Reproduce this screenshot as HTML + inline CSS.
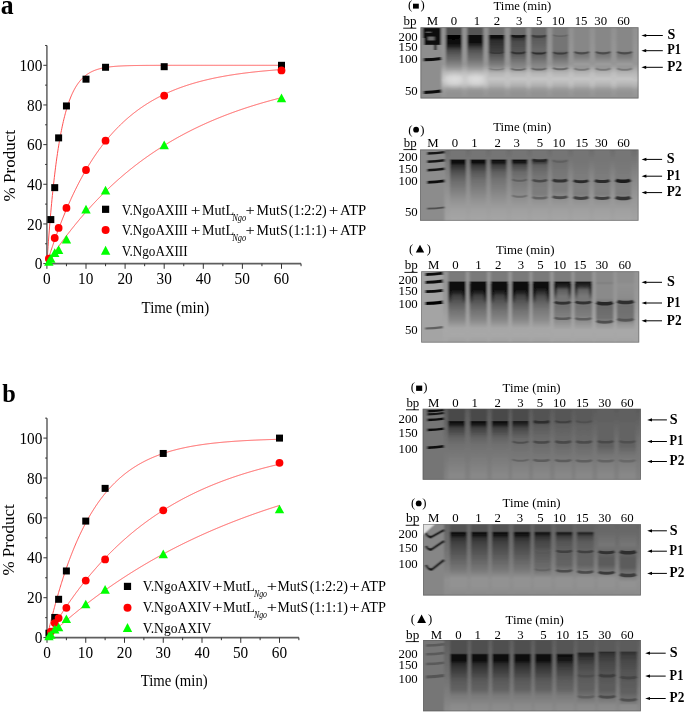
<!DOCTYPE html><html><head><meta charset="utf-8"><style>html,body{margin:0;padding:0;background:#fff;width:685px;height:713px;overflow:hidden}svg{display:block;will-change:transform}text{font-family:"Liberation Serif", serif;fill:#000}</style></head><body>
<svg width="685" height="713" viewBox="0 0 685 713">
<defs><filter id="bl" x="-5%" y="-5%" width="110%" height="110%"><feGaussianBlur stdDeviation="0.9 0.6"/></filter><filter id="bl3" x="-5%" y="-50%" width="110%" height="200%"><feGaussianBlur stdDeviation="3"/></filter></defs>
<rect width="685" height="713" fill="#fff"/>
<text x="0.63" y="13.70" font-size="26.7" font-weight="bold" textLength="12.86" lengthAdjust="spacingAndGlyphs">a</text>
<text x="2.36" y="402.40" font-size="25.5" font-weight="bold" textLength="13.55" lengthAdjust="spacingAndGlyphs">b</text>
<polyline points="46.90,263.60 47.29,257.74 47.68,252.05 48.07,246.53 48.46,241.18 48.85,235.98 49.25,230.93 49.64,226.04 50.03,221.29 50.42,216.68 50.81,212.20 51.20,207.86 51.59,203.65 51.98,199.56 52.37,195.59 52.77,191.74 53.16,188.00 53.55,184.38 53.94,180.86 54.33,177.44 54.72,174.13 55.11,170.91 55.50,167.79 55.89,164.76 56.28,161.82 56.67,158.97 57.07,156.20 57.46,153.52 57.85,150.91 58.24,148.38 58.63,145.92 59.02,143.54 59.41,141.23 59.80,138.98 60.19,136.81 60.59,134.69 60.98,132.64 61.37,130.65 61.76,128.72 62.15,126.85 62.54,125.03 62.93,123.26 63.32,121.55 63.71,119.89 64.10,118.27 64.50,116.71 64.89,115.19 65.28,113.71 65.67,112.28 66.06,110.89 66.45,109.55 66.84,108.24 67.23,106.97 67.62,105.74 68.01,104.54 68.41,103.38 68.80,102.26 69.19,101.17 69.58,100.11 69.97,99.08 70.36,98.08 70.75,97.11 71.14,96.17 71.53,95.26 71.92,94.37 72.31,93.51 72.71,92.68 73.10,91.87 73.49,91.08 73.88,90.32 74.27,89.58 74.66,88.87 75.05,88.17 75.44,87.49 75.83,86.84 76.22,86.20 76.62,85.58 77.01,84.98 77.40,84.40 77.79,83.84 78.18,83.29 78.57,82.76 78.96,82.24 79.35,81.74 79.74,81.26 80.13,80.78 80.53,80.33 80.92,79.88 81.31,79.45 81.70,79.03 82.09,78.63 82.48,78.23 82.87,77.85 83.26,77.48 83.65,77.12 84.05,76.77 84.44,76.43 84.83,76.10 85.22,75.78 85.61,75.47 86.00,75.17 86.39,74.88 86.78,74.60 87.17,74.32 87.56,74.06 87.95,73.80 88.35,73.55 88.74,73.30 89.13,73.07 89.52,72.84 89.91,72.61 90.30,72.40 90.69,72.19 91.08,71.98 91.47,71.79 91.87,71.60 92.26,71.41 92.65,71.23 93.04,71.05 93.43,70.88 93.82,70.72 94.21,70.56 94.60,70.40 94.99,70.25 95.38,70.11 95.78,69.96 96.17,69.83 96.56,69.69 96.95,69.56 97.34,69.44 97.73,69.31 98.12,69.20 98.51,69.08 98.90,68.97 99.29,68.86 99.69,68.75 100.08,68.65 100.47,68.55 100.86,68.46 101.25,68.36 101.64,68.27 102.03,68.19 102.42,68.10 102.81,68.02 103.20,67.94 103.59,67.86 103.99,67.78 104.38,67.71 104.77,67.64 105.16,67.57 105.55,67.50 105.94,67.44 106.33,67.37 106.72,67.31 107.11,67.25 107.50,67.20 107.90,67.14 108.29,67.09 108.68,67.03 109.07,66.98 109.46,66.93 109.85,66.88 110.24,66.84 110.63,66.79 111.02,66.75 111.41,66.70 111.81,66.66 112.20,66.62 112.59,66.58 112.98,66.55 113.37,66.51 113.76,66.47 114.15,66.44 114.54,66.40 114.93,66.37 115.32,66.34 115.72,66.31 116.11,66.28 116.50,66.25 116.89,66.22 117.28,66.20 117.67,66.17 118.06,66.14 118.45,66.12 118.84,66.09 119.24,66.07 119.63,66.05 120.02,66.03 120.41,66.00 120.80,65.98 121.19,65.96 121.58,65.94 121.97,65.92 122.36,65.91 122.75,65.89 123.15,65.87 123.54,65.85 123.93,65.84 124.32,65.82 124.71,65.81 125.10,65.79 125.49,65.78 125.88,65.76 126.27,65.75 126.66,65.74 127.06,65.72 127.45,65.71 127.84,65.70 128.23,65.69 128.62,65.68 129.01,65.66 129.40,65.65 129.79,65.64 130.18,65.63 130.57,65.62 130.97,65.61 131.36,65.60 131.75,65.60 132.14,65.59 132.53,65.58 132.92,65.57 133.31,65.56 133.70,65.55 134.09,65.55 134.48,65.54 134.88,65.53 135.27,65.53 135.66,65.52 136.05,65.51 136.44,65.51 136.83,65.50 137.22,65.49 137.61,65.49 138.00,65.48 138.39,65.48 138.78,65.47 139.18,65.47 139.57,65.46 139.96,65.46 140.35,65.45 140.74,65.45 141.13,65.44 141.52,65.44 141.91,65.44 142.30,65.43 142.69,65.43 143.09,65.42 143.48,65.42 143.87,65.42 144.26,65.41 144.65,65.41 145.04,65.41 145.43,65.40 145.82,65.40 146.21,65.40 146.60,65.39 147.00,65.39 147.39,65.39 147.78,65.39 148.17,65.38 148.56,65.38 148.95,65.38 149.34,65.38 149.73,65.37 150.12,65.37 150.52,65.37 150.91,65.37 151.30,65.37 151.69,65.36 152.08,65.36 152.47,65.36 152.86,65.36 153.25,65.36 153.64,65.36 154.03,65.35 154.43,65.35 154.82,65.35 155.21,65.35 155.60,65.35 155.99,65.35 156.38,65.34 156.77,65.34 157.16,65.34 157.55,65.34 157.94,65.34 158.34,65.34 158.73,65.34 159.12,65.34 159.51,65.34 159.90,65.33 160.29,65.33 160.68,65.33 161.07,65.33 161.46,65.33 161.85,65.33 162.25,65.33 162.64,65.33 163.03,65.33 163.42,65.33 163.81,65.33 164.20,65.32 164.59,65.32 164.98,65.32 165.37,65.32 165.76,65.32 166.16,65.32 166.55,65.32 166.94,65.32 167.33,65.32 167.72,65.32 168.11,65.32 168.50,65.32 168.89,65.32 169.28,65.32 169.67,65.32 170.06,65.32 170.46,65.32 170.85,65.31 171.24,65.31 171.63,65.31 172.02,65.31 172.41,65.31 172.80,65.31 173.19,65.31 173.58,65.31 173.97,65.31 174.37,65.31 174.76,65.31 175.15,65.31 175.54,65.31 175.93,65.31 176.32,65.31 176.71,65.31 177.10,65.31 177.49,65.31 177.89,65.31 178.28,65.31 178.67,65.31 179.06,65.31 179.45,65.31 179.84,65.31 180.23,65.31 180.62,65.31 181.01,65.31 181.40,65.31 181.80,65.31 182.19,65.31 182.58,65.31 182.97,65.31 183.36,65.31 183.75,65.31 184.14,65.31 184.53,65.31 184.92,65.30 185.31,65.30 185.71,65.30 186.10,65.30 186.49,65.30 186.88,65.30 187.27,65.30 187.66,65.30 188.05,65.30 188.44,65.30 188.83,65.30 189.22,65.30 189.62,65.30 190.01,65.30 190.40,65.30 190.79,65.30 191.18,65.30 191.57,65.30 191.96,65.30 192.35,65.30 192.74,65.30 193.13,65.30 193.53,65.30 193.92,65.30 194.31,65.30 194.70,65.30 195.09,65.30 195.48,65.30 195.87,65.30 196.26,65.30 196.65,65.30 197.04,65.30 197.44,65.30 197.83,65.30 198.22,65.30 198.61,65.30 199.00,65.30 199.39,65.30 199.78,65.30 200.17,65.30 200.56,65.30 200.95,65.30 201.34,65.30 201.74,65.30 202.13,65.30 202.52,65.30 202.91,65.30 203.30,65.30 203.69,65.30 204.08,65.30 204.47,65.30 204.86,65.30 205.26,65.30 205.65,65.30 206.04,65.30 206.43,65.30 206.82,65.30 207.21,65.30 207.60,65.30 207.99,65.30 208.38,65.30 208.77,65.30 209.17,65.30 209.56,65.30 209.95,65.30 210.34,65.30 210.73,65.30 211.12,65.30 211.51,65.30 211.90,65.30 212.29,65.30 212.68,65.30 213.08,65.30 213.47,65.30 213.86,65.30 214.25,65.30 214.64,65.30 215.03,65.30 215.42,65.30 215.81,65.30 216.20,65.30 216.59,65.30 216.99,65.30 217.38,65.30 217.77,65.30 218.16,65.30 218.55,65.30 218.94,65.30 219.33,65.30 219.72,65.30 220.11,65.30 220.50,65.30 220.90,65.30 221.29,65.30 221.68,65.30 222.07,65.30 222.46,65.30 222.85,65.30 223.24,65.30 223.63,65.30 224.02,65.30 224.41,65.30 224.81,65.30 225.20,65.30 225.59,65.30 225.98,65.30 226.37,65.30 226.76,65.30 227.15,65.30 227.54,65.30 227.93,65.30 228.32,65.30 228.72,65.30 229.11,65.30 229.50,65.30 229.89,65.30 230.28,65.30 230.67,65.30 231.06,65.30 231.45,65.30 231.84,65.30 232.23,65.30 232.62,65.30 233.02,65.30 233.41,65.30 233.80,65.30 234.19,65.30 234.58,65.30 234.97,65.30 235.36,65.30 235.75,65.30 236.14,65.30 236.54,65.30 236.93,65.30 237.32,65.30 237.71,65.30 238.10,65.30 238.49,65.30 238.88,65.30 239.27,65.30 239.66,65.30 240.05,65.30 240.45,65.30 240.84,65.30 241.23,65.30 241.62,65.30 242.01,65.30 242.40,65.30 242.79,65.30 243.18,65.30 243.57,65.30 243.96,65.30 244.36,65.30 244.75,65.30 245.14,65.30 245.53,65.30 245.92,65.30 246.31,65.30 246.70,65.30 247.09,65.30 247.48,65.30 247.87,65.30 248.27,65.30 248.66,65.30 249.05,65.30 249.44,65.30 249.83,65.30 250.22,65.30 250.61,65.30 251.00,65.30 251.39,65.30 251.78,65.30 252.18,65.30 252.57,65.30 252.96,65.30 253.35,65.30 253.74,65.30 254.13,65.30 254.52,65.30 254.91,65.30 255.30,65.30 255.69,65.30 256.08,65.30 256.48,65.30 256.87,65.30 257.26,65.30 257.65,65.30 258.04,65.30 258.43,65.30 258.82,65.30 259.21,65.30 259.60,65.30 260.00,65.30 260.39,65.30 260.78,65.30 261.17,65.30 261.56,65.30 261.95,65.30 262.34,65.30 262.73,65.30 263.12,65.30 263.51,65.30 263.90,65.30 264.30,65.30 264.69,65.30 265.08,65.30 265.47,65.30 265.86,65.30 266.25,65.30 266.64,65.30 267.03,65.30 267.42,65.30 267.81,65.30 268.21,65.30 268.60,65.30 268.99,65.30 269.38,65.30 269.77,65.30 270.16,65.30 270.55,65.30 270.94,65.30 271.33,65.30 271.73,65.30 272.12,65.30 272.51,65.30 272.90,65.30 273.29,65.30 273.68,65.30 274.07,65.30 274.46,65.30 274.85,65.30 275.24,65.30 275.63,65.30 276.03,65.30 276.42,65.30 276.81,65.30 277.20,65.30 277.59,65.30 277.98,65.30 278.37,65.30 278.76,65.30 279.15,65.30 279.55,65.30 279.94,65.30 280.33,65.30 280.72,65.30 281.11,65.30 281.50,65.30" fill="none" stroke="#ff5050" stroke-width="1"/>
<polyline points="46.90,263.60 47.29,262.33 47.68,261.08 48.07,259.83 48.46,258.59 48.85,257.35 49.25,256.13 49.64,254.91 50.03,253.70 50.42,252.50 50.81,251.31 51.20,250.12 51.59,248.94 51.98,247.77 52.37,246.61 52.77,245.45 53.16,244.30 53.55,243.16 53.94,242.02 54.33,240.90 54.72,239.77 55.11,238.66 55.50,237.56 55.89,236.46 56.28,235.37 56.67,234.28 57.07,233.20 57.46,232.13 57.85,231.07 58.24,230.01 58.63,228.96 59.02,227.91 59.41,226.88 59.80,225.85 60.19,224.82 60.59,223.80 60.98,222.79 61.37,221.79 61.76,220.79 62.15,219.80 62.54,218.81 62.93,217.83 63.32,216.86 63.71,215.89 64.10,214.93 64.50,213.98 64.89,213.03 65.28,212.09 65.67,211.15 66.06,210.22 66.45,209.30 66.84,208.38 67.23,207.46 67.62,206.56 68.01,205.66 68.41,204.76 68.80,203.87 69.19,202.99 69.58,202.11 69.97,201.24 70.36,200.37 70.75,199.51 71.14,198.65 71.53,197.80 71.92,196.95 72.31,196.11 72.71,195.28 73.10,194.45 73.49,193.63 73.88,192.81 74.27,191.99 74.66,191.19 75.05,190.38 75.44,189.59 75.83,188.79 76.22,188.00 76.62,187.22 77.01,186.44 77.40,185.67 77.79,184.90 78.18,184.14 78.57,183.38 78.96,182.63 79.35,181.88 79.74,181.14 80.13,180.40 80.53,179.66 80.92,178.93 81.31,178.21 81.70,177.49 82.09,176.77 82.48,176.06 82.87,175.36 83.26,174.65 83.65,173.96 84.05,173.26 84.44,172.57 84.83,171.89 85.22,171.21 85.61,170.53 86.00,169.86 86.39,169.20 86.78,168.53 87.17,167.87 87.56,167.22 87.95,166.57 88.35,165.92 88.74,165.28 89.13,164.64 89.52,164.01 89.91,163.38 90.30,162.75 90.69,162.13 91.08,161.51 91.47,160.90 91.87,160.29 92.26,159.68 92.65,159.08 93.04,158.48 93.43,157.89 93.82,157.30 94.21,156.71 94.60,156.13 94.99,155.55 95.38,154.97 95.78,154.40 96.17,153.83 96.56,153.27 96.95,152.71 97.34,152.15 97.73,151.60 98.12,151.05 98.51,150.50 98.90,149.95 99.29,149.41 99.69,148.88 100.08,148.34 100.47,147.82 100.86,147.29 101.25,146.77 101.64,146.25 102.03,145.73 102.42,145.22 102.81,144.71 103.20,144.20 103.59,143.70 103.99,143.20 104.38,142.70 104.77,142.21 105.16,141.72 105.55,141.23 105.94,140.74 106.33,140.26 106.72,139.78 107.11,139.31 107.50,138.84 107.90,138.37 108.29,137.90 108.68,137.44 109.07,136.98 109.46,136.52 109.85,136.07 110.24,135.61 110.63,135.17 111.02,134.72 111.41,134.28 111.81,133.84 112.20,133.40 112.59,132.97 112.98,132.53 113.37,132.11 113.76,131.68 114.15,131.26 114.54,130.83 114.93,130.42 115.32,130.00 115.72,129.59 116.11,129.18 116.50,128.77 116.89,128.37 117.28,127.96 117.67,127.56 118.06,127.17 118.45,126.77 118.84,126.38 119.24,125.99 119.63,125.60 120.02,125.22 120.41,124.84 120.80,124.46 121.19,124.08 121.58,123.70 121.97,123.33 122.36,122.96 122.75,122.59 123.15,122.23 123.54,121.86 123.93,121.50 124.32,121.15 124.71,120.79 125.10,120.43 125.49,120.08 125.88,119.73 126.27,119.39 126.66,119.04 127.06,118.70 127.45,118.36 127.84,118.02 128.23,117.68 128.62,117.35 129.01,117.02 129.40,116.69 129.79,116.36 130.18,116.03 130.57,115.71 130.97,115.39 131.36,115.07 131.75,114.75 132.14,114.44 132.53,114.12 132.92,113.81 133.31,113.50 133.70,113.19 134.09,112.89 134.48,112.58 134.88,112.28 135.27,111.98 135.66,111.69 136.05,111.39 136.44,111.10 136.83,110.80 137.22,110.51 137.61,110.22 138.00,109.94 138.39,109.65 138.78,109.37 139.18,109.09 139.57,108.81 139.96,108.53 140.35,108.26 140.74,107.98 141.13,107.71 141.52,107.44 141.91,107.17 142.30,106.90 142.69,106.64 143.09,106.37 143.48,106.11 143.87,105.85 144.26,105.59 144.65,105.34 145.04,105.08 145.43,104.83 145.82,104.57 146.21,104.32 146.60,104.08 147.00,103.83 147.39,103.58 147.78,103.34 148.17,103.10 148.56,102.85 148.95,102.61 149.34,102.38 149.73,102.14 150.12,101.90 150.52,101.67 150.91,101.44 151.30,101.21 151.69,100.98 152.08,100.75 152.47,100.53 152.86,100.30 153.25,100.08 153.64,99.86 154.03,99.64 154.43,99.42 154.82,99.20 155.21,98.98 155.60,98.77 155.99,98.55 156.38,98.34 156.77,98.13 157.16,97.92 157.55,97.71 157.94,97.51 158.34,97.30 158.73,97.10 159.12,96.89 159.51,96.69 159.90,96.49 160.29,96.29 160.68,96.10 161.07,95.90 161.46,95.70 161.85,95.51 162.25,95.32 162.64,95.13 163.03,94.94 163.42,94.75 163.81,94.56 164.20,94.37 164.59,94.19 164.98,94.00 165.37,93.82 165.76,93.64 166.16,93.46 166.55,93.28 166.94,93.10 167.33,92.92 167.72,92.74 168.11,92.57 168.50,92.40 168.89,92.22 169.28,92.05 169.67,91.88 170.06,91.71 170.46,91.54 170.85,91.38 171.24,91.21 171.63,91.04 172.02,90.88 172.41,90.72 172.80,90.55 173.19,90.39 173.58,90.23 173.97,90.07 174.37,89.92 174.76,89.76 175.15,89.60 175.54,89.45 175.93,89.29 176.32,89.14 176.71,88.99 177.10,88.84 177.49,88.69 177.89,88.54 178.28,88.39 178.67,88.24 179.06,88.10 179.45,87.95 179.84,87.81 180.23,87.66 180.62,87.52 181.01,87.38 181.40,87.24 181.80,87.10 182.19,86.96 182.58,86.82 182.97,86.68 183.36,86.55 183.75,86.41 184.14,86.28 184.53,86.14 184.92,86.01 185.31,85.88 185.71,85.75 186.10,85.62 186.49,85.49 186.88,85.36 187.27,85.23 187.66,85.10 188.05,84.98 188.44,84.85 188.83,84.73 189.22,84.60 189.62,84.48 190.01,84.36 190.40,84.23 190.79,84.11 191.18,83.99 191.57,83.87 191.96,83.76 192.35,83.64 192.74,83.52 193.13,83.40 193.53,83.29 193.92,83.17 194.31,83.06 194.70,82.95 195.09,82.83 195.48,82.72 195.87,82.61 196.26,82.50 196.65,82.39 197.04,82.28 197.44,82.17 197.83,82.07 198.22,81.96 198.61,81.85 199.00,81.75 199.39,81.64 199.78,81.54 200.17,81.43 200.56,81.33 200.95,81.23 201.34,81.13 201.74,81.03 202.13,80.93 202.52,80.83 202.91,80.73 203.30,80.63 203.69,80.53 204.08,80.43 204.47,80.34 204.86,80.24 205.26,80.15 205.65,80.05 206.04,79.96 206.43,79.86 206.82,79.77 207.21,79.68 207.60,79.59 207.99,79.50 208.38,79.41 208.77,79.32 209.17,79.23 209.56,79.14 209.95,79.05 210.34,78.96 210.73,78.87 211.12,78.79 211.51,78.70 211.90,78.62 212.29,78.53 212.68,78.45 213.08,78.36 213.47,78.28 213.86,78.20 214.25,78.11 214.64,78.03 215.03,77.95 215.42,77.87 215.81,77.79 216.20,77.71 216.59,77.63 216.99,77.55 217.38,77.47 217.77,77.40 218.16,77.32 218.55,77.24 218.94,77.17 219.33,77.09 219.72,77.02 220.11,76.94 220.50,76.87 220.90,76.79 221.29,76.72 221.68,76.65 222.07,76.57 222.46,76.50 222.85,76.43 223.24,76.36 223.63,76.29 224.02,76.22 224.41,76.15 224.81,76.08 225.20,76.01 225.59,75.94 225.98,75.88 226.37,75.81 226.76,75.74 227.15,75.67 227.54,75.61 227.93,75.54 228.32,75.48 228.72,75.41 229.11,75.35 229.50,75.28 229.89,75.22 230.28,75.16 230.67,75.09 231.06,75.03 231.45,74.97 231.84,74.91 232.23,74.85 232.62,74.79 233.02,74.73 233.41,74.67 233.80,74.61 234.19,74.55 234.58,74.49 234.97,74.43 235.36,74.37 235.75,74.31 236.14,74.25 236.54,74.20 236.93,74.14 237.32,74.08 237.71,74.03 238.10,73.97 238.49,73.92 238.88,73.86 239.27,73.81 239.66,73.75 240.05,73.70 240.45,73.65 240.84,73.59 241.23,73.54 241.62,73.49 242.01,73.44 242.40,73.38 242.79,73.33 243.18,73.28 243.57,73.23 243.96,73.18 244.36,73.13 244.75,73.08 245.14,73.03 245.53,72.98 245.92,72.93 246.31,72.88 246.70,72.83 247.09,72.79 247.48,72.74 247.87,72.69 248.27,72.64 248.66,72.60 249.05,72.55 249.44,72.50 249.83,72.46 250.22,72.41 250.61,72.37 251.00,72.32 251.39,72.28 251.78,72.23 252.18,72.19 252.57,72.14 252.96,72.10 253.35,72.06 253.74,72.01 254.13,71.97 254.52,71.93 254.91,71.89 255.30,71.84 255.69,71.80 256.08,71.76 256.48,71.72 256.87,71.68 257.26,71.64 257.65,71.60 258.04,71.56 258.43,71.52 258.82,71.48 259.21,71.44 259.60,71.40 260.00,71.36 260.39,71.32 260.78,71.28 261.17,71.25 261.56,71.21 261.95,71.17 262.34,71.13 262.73,71.09 263.12,71.06 263.51,71.02 263.90,70.98 264.30,70.95 264.69,70.91 265.08,70.88 265.47,70.84 265.86,70.81 266.25,70.77 266.64,70.74 267.03,70.70 267.42,70.67 267.81,70.63 268.21,70.60 268.60,70.56 268.99,70.53 269.38,70.50 269.77,70.46 270.16,70.43 270.55,70.40 270.94,70.37 271.33,70.33 271.73,70.30 272.12,70.27 272.51,70.24 272.90,70.21 273.29,70.18 273.68,70.14 274.07,70.11 274.46,70.08 274.85,70.05 275.24,70.02 275.63,69.99 276.03,69.96 276.42,69.93 276.81,69.90 277.20,69.87 277.59,69.84 277.98,69.81 278.37,69.79 278.76,69.76 279.15,69.73 279.55,69.70 279.94,69.67 280.33,69.64 280.72,69.62 281.11,69.59 281.50,69.56" fill="none" stroke="#ff5050" stroke-width="1"/>
<polyline points="46.90,263.60 47.29,263.00 47.68,262.41 48.07,261.81 48.46,261.22 48.85,260.63 49.25,260.04 49.64,259.45 50.03,258.87 50.42,258.28 50.81,257.70 51.20,257.12 51.59,256.54 51.98,255.97 52.37,255.39 52.77,254.82 53.16,254.25 53.55,253.68 53.94,253.11 54.33,252.54 54.72,251.98 55.11,251.41 55.50,250.85 55.89,250.29 56.28,249.74 56.67,249.18 57.07,248.63 57.46,248.07 57.85,247.52 58.24,246.97 58.63,246.42 59.02,245.88 59.41,245.33 59.80,244.79 60.19,244.25 60.59,243.71 60.98,243.17 61.37,242.64 61.76,242.10 62.15,241.57 62.54,241.04 62.93,240.51 63.32,239.98 63.71,239.45 64.10,238.93 64.50,238.40 64.89,237.88 65.28,237.36 65.67,236.84 66.06,236.32 66.45,235.81 66.84,235.29 67.23,234.78 67.62,234.27 68.01,233.76 68.41,233.25 68.80,232.75 69.19,232.24 69.58,231.74 69.97,231.24 70.36,230.74 70.75,230.24 71.14,229.74 71.53,229.24 71.92,228.75 72.31,228.26 72.71,227.76 73.10,227.27 73.49,226.79 73.88,226.30 74.27,225.81 74.66,225.33 75.05,224.85 75.44,224.37 75.83,223.89 76.22,223.41 76.62,222.93 77.01,222.46 77.40,221.98 77.79,221.51 78.18,221.04 78.57,220.57 78.96,220.10 79.35,219.63 79.74,219.17 80.13,218.70 80.53,218.24 80.92,217.78 81.31,217.32 81.70,216.86 82.09,216.41 82.48,215.95 82.87,215.50 83.26,215.04 83.65,214.59 84.05,214.14 84.44,213.69 84.83,213.25 85.22,212.80 85.61,212.35 86.00,211.91 86.39,211.47 86.78,211.03 87.17,210.59 87.56,210.15 87.95,209.71 88.35,209.28 88.74,208.84 89.13,208.41 89.52,207.98 89.91,207.55 90.30,207.12 90.69,206.69 91.08,206.27 91.47,205.84 91.87,205.42 92.26,204.99 92.65,204.57 93.04,204.15 93.43,203.74 93.82,203.32 94.21,202.90 94.60,202.49 94.99,202.07 95.38,201.66 95.78,201.25 96.17,200.84 96.56,200.43 96.95,200.02 97.34,199.62 97.73,199.21 98.12,198.81 98.51,198.41 98.90,198.00 99.29,197.60 99.69,197.20 100.08,196.81 100.47,196.41 100.86,196.02 101.25,195.62 101.64,195.23 102.03,194.84 102.42,194.45 102.81,194.06 103.20,193.67 103.59,193.28 103.99,192.89 104.38,192.51 104.77,192.13 105.16,191.74 105.55,191.36 105.94,190.98 106.33,190.60 106.72,190.23 107.11,189.85 107.50,189.47 107.90,189.10 108.29,188.73 108.68,188.35 109.07,187.98 109.46,187.61 109.85,187.24 110.24,186.88 110.63,186.51 111.02,186.14 111.41,185.78 111.81,185.42 112.20,185.05 112.59,184.69 112.98,184.33 113.37,183.97 113.76,183.62 114.15,183.26 114.54,182.90 114.93,182.55 115.32,182.20 115.72,181.84 116.11,181.49 116.50,181.14 116.89,180.79 117.28,180.44 117.67,180.10 118.06,179.75 118.45,179.41 118.84,179.06 119.24,178.72 119.63,178.38 120.02,178.04 120.41,177.70 120.80,177.36 121.19,177.02 121.58,176.68 121.97,176.35 122.36,176.01 122.75,175.68 123.15,175.34 123.54,175.01 123.93,174.68 124.32,174.35 124.71,174.02 125.10,173.69 125.49,173.37 125.88,173.04 126.27,172.72 126.66,172.39 127.06,172.07 127.45,171.75 127.84,171.43 128.23,171.11 128.62,170.79 129.01,170.47 129.40,170.15 129.79,169.84 130.18,169.52 130.57,169.21 130.97,168.89 131.36,168.58 131.75,168.27 132.14,167.96 132.53,167.65 132.92,167.34 133.31,167.03 133.70,166.73 134.09,166.42 134.48,166.12 134.88,165.81 135.27,165.51 135.66,165.21 136.05,164.91 136.44,164.61 136.83,164.31 137.22,164.01 137.61,163.71 138.00,163.41 138.39,163.12 138.78,162.82 139.18,162.53 139.57,162.24 139.96,161.94 140.35,161.65 140.74,161.36 141.13,161.07 141.52,160.78 141.91,160.49 142.30,160.21 142.69,159.92 143.09,159.64 143.48,159.35 143.87,159.07 144.26,158.79 144.65,158.50 145.04,158.22 145.43,157.94 145.82,157.66 146.21,157.38 146.60,157.11 147.00,156.83 147.39,156.55 147.78,156.28 148.17,156.00 148.56,155.73 148.95,155.46 149.34,155.19 149.73,154.91 150.12,154.64 150.52,154.38 150.91,154.11 151.30,153.84 151.69,153.57 152.08,153.31 152.47,153.04 152.86,152.78 153.25,152.51 153.64,152.25 154.03,151.99 154.43,151.73 154.82,151.46 155.21,151.20 155.60,150.95 155.99,150.69 156.38,150.43 156.77,150.17 157.16,149.92 157.55,149.66 157.94,149.41 158.34,149.15 158.73,148.90 159.12,148.65 159.51,148.40 159.90,148.15 160.29,147.90 160.68,147.65 161.07,147.40 161.46,147.15 161.85,146.91 162.25,146.66 162.64,146.41 163.03,146.17 163.42,145.93 163.81,145.68 164.20,145.44 164.59,145.20 164.98,144.96 165.37,144.72 165.76,144.48 166.16,144.24 166.55,144.00 166.94,143.76 167.33,143.53 167.72,143.29 168.11,143.06 168.50,142.82 168.89,142.59 169.28,142.36 169.67,142.12 170.06,141.89 170.46,141.66 170.85,141.43 171.24,141.20 171.63,140.97 172.02,140.74 172.41,140.52 172.80,140.29 173.19,140.06 173.58,139.84 173.97,139.61 174.37,139.39 174.76,139.17 175.15,138.94 175.54,138.72 175.93,138.50 176.32,138.28 176.71,138.06 177.10,137.84 177.49,137.62 177.89,137.40 178.28,137.18 178.67,136.97 179.06,136.75 179.45,136.54 179.84,136.32 180.23,136.11 180.62,135.89 181.01,135.68 181.40,135.47 181.80,135.26 182.19,135.05 182.58,134.84 182.97,134.63 183.36,134.42 183.75,134.21 184.14,134.00 184.53,133.79 184.92,133.59 185.31,133.38 185.71,133.18 186.10,132.97 186.49,132.77 186.88,132.56 187.27,132.36 187.66,132.16 188.05,131.96 188.44,131.76 188.83,131.56 189.22,131.36 189.62,131.16 190.01,130.96 190.40,130.76 190.79,130.56 191.18,130.37 191.57,130.17 191.96,129.97 192.35,129.78 192.74,129.58 193.13,129.39 193.53,129.20 193.92,129.00 194.31,128.81 194.70,128.62 195.09,128.43 195.48,128.24 195.87,128.05 196.26,127.86 196.65,127.67 197.04,127.48 197.44,127.30 197.83,127.11 198.22,126.92 198.61,126.74 199.00,126.55 199.39,126.37 199.78,126.18 200.17,126.00 200.56,125.82 200.95,125.63 201.34,125.45 201.74,125.27 202.13,125.09 202.52,124.91 202.91,124.73 203.30,124.55 203.69,124.37 204.08,124.19 204.47,124.02 204.86,123.84 205.26,123.66 205.65,123.49 206.04,123.31 206.43,123.14 206.82,122.96 207.21,122.79 207.60,122.61 207.99,122.44 208.38,122.27 208.77,122.10 209.17,121.93 209.56,121.76 209.95,121.59 210.34,121.42 210.73,121.25 211.12,121.08 211.51,120.91 211.90,120.74 212.29,120.58 212.68,120.41 213.08,120.24 213.47,120.08 213.86,119.91 214.25,119.75 214.64,119.58 215.03,119.42 215.42,119.26 215.81,119.09 216.20,118.93 216.59,118.77 216.99,118.61 217.38,118.45 217.77,118.29 218.16,118.13 218.55,117.97 218.94,117.81 219.33,117.65 219.72,117.49 220.11,117.34 220.50,117.18 220.90,117.02 221.29,116.87 221.68,116.71 222.07,116.56 222.46,116.40 222.85,116.25 223.24,116.09 223.63,115.94 224.02,115.79 224.41,115.64 224.81,115.48 225.20,115.33 225.59,115.18 225.98,115.03 226.37,114.88 226.76,114.73 227.15,114.58 227.54,114.43 227.93,114.29 228.32,114.14 228.72,113.99 229.11,113.84 229.50,113.70 229.89,113.55 230.28,113.41 230.67,113.26 231.06,113.12 231.45,112.97 231.84,112.83 232.23,112.68 232.62,112.54 233.02,112.40 233.41,112.26 233.80,112.12 234.19,111.97 234.58,111.83 234.97,111.69 235.36,111.55 235.75,111.41 236.14,111.28 236.54,111.14 236.93,111.00 237.32,110.86 237.71,110.72 238.10,110.59 238.49,110.45 238.88,110.31 239.27,110.18 239.66,110.04 240.05,109.91 240.45,109.77 240.84,109.64 241.23,109.51 241.62,109.37 242.01,109.24 242.40,109.11 242.79,108.97 243.18,108.84 243.57,108.71 243.96,108.58 244.36,108.45 244.75,108.32 245.14,108.19 245.53,108.06 245.92,107.93 246.31,107.80 246.70,107.68 247.09,107.55 247.48,107.42 247.87,107.29 248.27,107.17 248.66,107.04 249.05,106.91 249.44,106.79 249.83,106.66 250.22,106.54 250.61,106.41 251.00,106.29 251.39,106.17 251.78,106.04 252.18,105.92 252.57,105.80 252.96,105.68 253.35,105.55 253.74,105.43 254.13,105.31 254.52,105.19 254.91,105.07 255.30,104.95 255.69,104.83 256.08,104.71 256.48,104.59 256.87,104.48 257.26,104.36 257.65,104.24 258.04,104.12 258.43,104.00 258.82,103.89 259.21,103.77 259.60,103.66 260.00,103.54 260.39,103.42 260.78,103.31 261.17,103.20 261.56,103.08 261.95,102.97 262.34,102.85 262.73,102.74 263.12,102.63 263.51,102.51 263.90,102.40 264.30,102.29 264.69,102.18 265.08,102.07 265.47,101.96 265.86,101.85 266.25,101.74 266.64,101.63 267.03,101.52 267.42,101.41 267.81,101.30 268.21,101.19 268.60,101.08 268.99,100.97 269.38,100.87 269.77,100.76 270.16,100.65 270.55,100.55 270.94,100.44 271.33,100.33 271.73,100.23 272.12,100.12 272.51,100.02 272.90,99.91 273.29,99.81 273.68,99.70 274.07,99.60 274.46,99.50 274.85,99.39 275.24,99.29 275.63,99.19 276.03,99.09 276.42,98.98 276.81,98.88 277.20,98.78 277.59,98.68 277.98,98.58 278.37,98.48 278.76,98.38 279.15,98.28 279.55,98.18 279.94,98.08 280.33,97.98 280.72,97.88 281.11,97.79 281.50,97.69" fill="none" stroke="#ff5050" stroke-width="1"/>
<line x1="46.90" y1="45.47" x2="46.90" y2="264.40" stroke="#6a6a6a" stroke-width="1.6"/>
<line x1="46.10" y1="263.60" x2="301.05" y2="263.60" stroke="#5e5e5e" stroke-width="1.6"/>
<line x1="43.30" y1="263.60" x2="46.90" y2="263.60" stroke="#333" stroke-width="1"/>
<line x1="45.10" y1="243.77" x2="46.90" y2="243.77" stroke="#333" stroke-width="1"/>
<line x1="43.30" y1="223.94" x2="46.90" y2="223.94" stroke="#333" stroke-width="1"/>
<line x1="45.10" y1="204.11" x2="46.90" y2="204.11" stroke="#333" stroke-width="1"/>
<line x1="43.30" y1="184.28" x2="46.90" y2="184.28" stroke="#333" stroke-width="1"/>
<line x1="45.10" y1="164.45" x2="46.90" y2="164.45" stroke="#333" stroke-width="1"/>
<line x1="43.30" y1="144.62" x2="46.90" y2="144.62" stroke="#333" stroke-width="1"/>
<line x1="45.10" y1="124.79" x2="46.90" y2="124.79" stroke="#333" stroke-width="1"/>
<line x1="43.30" y1="104.96" x2="46.90" y2="104.96" stroke="#333" stroke-width="1"/>
<line x1="45.10" y1="85.13" x2="46.90" y2="85.13" stroke="#333" stroke-width="1"/>
<line x1="43.30" y1="65.30" x2="46.90" y2="65.30" stroke="#333" stroke-width="1"/>
<line x1="45.10" y1="45.47" x2="46.90" y2="45.47" stroke="#333" stroke-width="1"/>
<line x1="46.90" y1="263.60" x2="46.90" y2="268.80" stroke="#333" stroke-width="1"/>
<line x1="66.45" y1="263.60" x2="66.45" y2="266.20" stroke="#333" stroke-width="1"/>
<line x1="86.00" y1="263.60" x2="86.00" y2="268.80" stroke="#333" stroke-width="1"/>
<line x1="105.55" y1="263.60" x2="105.55" y2="266.20" stroke="#333" stroke-width="1"/>
<line x1="125.10" y1="263.60" x2="125.10" y2="268.80" stroke="#333" stroke-width="1"/>
<line x1="144.65" y1="263.60" x2="144.65" y2="266.20" stroke="#333" stroke-width="1"/>
<line x1="164.20" y1="263.60" x2="164.20" y2="268.80" stroke="#333" stroke-width="1"/>
<line x1="183.75" y1="263.60" x2="183.75" y2="266.20" stroke="#333" stroke-width="1"/>
<line x1="203.30" y1="263.60" x2="203.30" y2="268.80" stroke="#333" stroke-width="1"/>
<line x1="222.85" y1="263.60" x2="222.85" y2="266.20" stroke="#333" stroke-width="1"/>
<line x1="242.40" y1="263.60" x2="242.40" y2="268.80" stroke="#333" stroke-width="1"/>
<line x1="261.95" y1="263.60" x2="261.95" y2="266.20" stroke="#333" stroke-width="1"/>
<line x1="281.50" y1="263.60" x2="281.50" y2="268.80" stroke="#333" stroke-width="1"/>
<line x1="301.05" y1="263.60" x2="301.05" y2="266.20" stroke="#333" stroke-width="1"/>
<text x="34.67" y="269.20" font-size="17" textLength="7.64" lengthAdjust="spacingAndGlyphs">0</text>
<text x="27.04" y="229.54" font-size="17" textLength="15.27" lengthAdjust="spacingAndGlyphs">20</text>
<text x="27.04" y="189.88" font-size="17" textLength="15.27" lengthAdjust="spacingAndGlyphs">40</text>
<text x="27.04" y="150.22" font-size="17" textLength="15.27" lengthAdjust="spacingAndGlyphs">60</text>
<text x="27.04" y="110.56" font-size="17" textLength="15.27" lengthAdjust="spacingAndGlyphs">80</text>
<text x="19.40" y="70.90" font-size="17" textLength="22.91" lengthAdjust="spacingAndGlyphs">100</text>
<text x="43.08" y="284.30" font-size="17" textLength="7.64" lengthAdjust="spacingAndGlyphs">0</text>
<text x="78.02" y="284.30" font-size="17" textLength="15.27" lengthAdjust="spacingAndGlyphs">10</text>
<text x="117.43" y="284.30" font-size="17" textLength="15.27" lengthAdjust="spacingAndGlyphs">20</text>
<text x="156.53" y="284.30" font-size="17" textLength="15.27" lengthAdjust="spacingAndGlyphs">30</text>
<text x="195.82" y="284.30" font-size="17" textLength="15.27" lengthAdjust="spacingAndGlyphs">40</text>
<text x="234.61" y="284.30" font-size="17" textLength="15.27" lengthAdjust="spacingAndGlyphs">50</text>
<text x="273.86" y="284.30" font-size="17" textLength="15.27" lengthAdjust="spacingAndGlyphs">60</text>
<rect x="47.31" y="216.08" width="7" height="7" fill="#000"/>
<rect x="51.22" y="184.15" width="7" height="7" fill="#000"/>
<rect x="55.13" y="134.38" width="7" height="7" fill="#000"/>
<rect x="62.95" y="102.45" width="7" height="7" fill="#000"/>
<rect x="82.50" y="75.68" width="7" height="7" fill="#000"/>
<rect x="102.05" y="63.78" width="7" height="7" fill="#000"/>
<rect x="160.70" y="63.19" width="7" height="7" fill="#000"/>
<rect x="278.00" y="61.80" width="7" height="7" fill="#000"/>
<circle cx="48.85" cy="258.64" r="3.9" fill="#ff0000"/>
<circle cx="54.72" cy="238.02" r="3.9" fill="#ff0000"/>
<circle cx="58.63" cy="227.91" r="3.9" fill="#ff0000"/>
<circle cx="66.45" cy="207.88" r="3.9" fill="#ff0000"/>
<circle cx="86.00" cy="170.00" r="3.9" fill="#ff0000"/>
<circle cx="105.55" cy="140.65" r="3.9" fill="#ff0000"/>
<circle cx="164.20" cy="95.64" r="3.9" fill="#ff0000"/>
<circle cx="281.50" cy="70.46" r="3.9" fill="#ff0000"/>
<polygon points="44.15,265.82 53.55,265.82 48.85,257.22" fill="#00ff00"/>
<polygon points="46.11,262.64 55.51,262.64 50.81,254.04" fill="#00ff00"/>
<polygon points="50.02,256.89 59.42,256.89 54.72,248.29" fill="#00ff00"/>
<polygon points="53.93,253.92 63.33,253.92 58.63,245.32" fill="#00ff00"/>
<polygon points="61.75,243.41 71.15,243.41 66.45,234.81" fill="#00ff00"/>
<polygon points="81.30,213.47 90.70,213.47 86.00,204.87" fill="#00ff00"/>
<polygon points="100.85,194.43 110.25,194.43 105.55,185.83" fill="#00ff00"/>
<polygon points="159.50,149.22 168.90,149.22 164.20,140.62" fill="#00ff00"/>
<polygon points="276.80,102.22 286.20,102.22 281.50,93.62" fill="#00ff00"/>
<rect x="102.00" y="205.70" width="7.2" height="7.2" fill="#000"/>
<circle cx="105.60" cy="229.90" r="4" fill="#ff0000"/>
<polygon points="100.90,254.70 110.30,254.70 105.60,245.70" fill="#00ff00"/>
<text x="121.67" y="214.50" font-size="15" textLength="65.98" lengthAdjust="spacingAndGlyphs">V.NgoAXIII</text>
<text x="190.74" y="214.50" font-size="15" textLength="9.70" lengthAdjust="spacingAndGlyphs">+</text>
<text x="202.08" y="214.50" font-size="15" textLength="32.00" lengthAdjust="spacingAndGlyphs">MutL</text>
<text x="232.24" y="220.80" font-size="9.5" font-style="italic" textLength="14.03" lengthAdjust="spacingAndGlyphs">Ngo</text>
<text x="245.48" y="214.50" font-size="15" textLength="9.22" lengthAdjust="spacingAndGlyphs">+</text>
<text x="256.58" y="214.50" font-size="15" textLength="31.10" lengthAdjust="spacingAndGlyphs">MutS</text>
<text x="288.77" y="214.50" font-size="15" textLength="38.01" lengthAdjust="spacingAndGlyphs">(1:2:2)</text>
<text x="328.85" y="214.50" font-size="15" textLength="9.58" lengthAdjust="spacingAndGlyphs">+</text>
<text x="340.05" y="214.50" font-size="15" textLength="26.19" lengthAdjust="spacingAndGlyphs">ATP</text>
<text x="121.67" y="234.80" font-size="15" textLength="65.98" lengthAdjust="spacingAndGlyphs">V.NgoAXIII</text>
<text x="190.74" y="234.80" font-size="15" textLength="9.70" lengthAdjust="spacingAndGlyphs">+</text>
<text x="202.08" y="234.80" font-size="15" textLength="32.00" lengthAdjust="spacingAndGlyphs">MutL</text>
<text x="232.24" y="241.10" font-size="9.5" font-style="italic" textLength="14.03" lengthAdjust="spacingAndGlyphs">Ngo</text>
<text x="245.48" y="234.80" font-size="15" textLength="9.22" lengthAdjust="spacingAndGlyphs">+</text>
<text x="256.58" y="234.80" font-size="15" textLength="31.10" lengthAdjust="spacingAndGlyphs">MutS</text>
<text x="288.77" y="234.80" font-size="15" textLength="38.01" lengthAdjust="spacingAndGlyphs">(1:1:1)</text>
<text x="328.85" y="234.80" font-size="15" textLength="9.58" lengthAdjust="spacingAndGlyphs">+</text>
<text x="340.05" y="234.80" font-size="15" textLength="26.19" lengthAdjust="spacingAndGlyphs">ATP</text>
<text x="121.67" y="256.00" font-size="15" textLength="65.98" lengthAdjust="spacingAndGlyphs">V.NgoAXIII</text>
<text x="141.60" y="312.90" font-size="16.8" textLength="67.52" lengthAdjust="spacingAndGlyphs">Time (min)</text>
<g transform="translate(14.80,200.80) rotate(-90)"><text x="-0.60" y="0.00" font-size="17" textLength="71.45" lengthAdjust="spacingAndGlyphs">% Product</text></g>
<polyline points="47.00,637.60 47.39,635.90 47.77,634.22 48.16,632.55 48.55,630.89 48.94,629.25 49.33,627.62 49.71,626.01 50.10,624.41 50.49,622.82 50.88,621.25 51.26,619.69 51.65,618.15 52.04,616.61 52.42,615.09 52.81,613.59 53.20,612.09 53.59,610.61 53.98,609.14 54.36,607.69 54.75,606.24 55.14,604.81 55.52,603.39 55.91,601.98 56.30,600.59 56.69,599.21 57.08,597.83 57.46,596.47 57.85,595.13 58.24,593.79 58.62,592.46 59.01,591.15 59.40,589.85 59.79,588.56 60.17,587.27 60.56,586.00 60.95,584.74 61.34,583.50 61.73,582.26 62.11,581.03 62.50,579.81 62.89,578.61 63.28,577.41 63.66,576.23 64.05,575.05 64.44,573.88 64.83,572.73 65.21,571.58 65.60,570.45 65.99,569.32 66.38,568.20 66.76,567.09 67.15,566.00 67.54,564.91 67.92,563.83 68.31,562.76 68.70,561.70 69.09,560.64 69.47,559.60 69.86,558.57 70.25,557.54 70.64,556.52 71.03,555.51 71.41,554.52 71.80,553.52 72.19,552.54 72.58,551.57 72.96,550.60 73.35,549.64 73.74,548.69 74.12,547.75 74.51,546.82 74.90,545.89 75.29,544.98 75.67,544.07 76.06,543.16 76.45,542.27 76.84,541.38 77.22,540.50 77.61,539.63 78.00,538.77 78.39,537.91 78.78,537.06 79.16,536.22 79.55,535.38 79.94,534.55 80.32,533.73 80.71,532.92 81.10,532.11 81.49,531.31 81.88,530.52 82.26,529.73 82.65,528.95 83.04,528.18 83.43,527.41 83.81,526.65 84.20,525.90 84.59,525.15 84.97,524.41 85.36,523.67 85.75,522.94 86.14,522.22 86.53,521.51 86.91,520.80 87.30,520.09 87.69,519.39 88.08,518.70 88.46,518.02 88.85,517.33 89.24,516.66 89.62,515.99 90.01,515.33 90.40,514.67 90.79,514.02 91.18,513.37 91.56,512.73 91.95,512.10 92.34,511.47 92.72,510.84 93.11,510.22 93.50,509.61 93.89,509.00 94.28,508.40 94.66,507.80 95.05,507.20 95.44,506.62 95.83,506.03 96.21,505.45 96.60,504.88 96.99,504.31 97.38,503.75 97.76,503.19 98.15,502.64 98.54,502.09 98.93,501.54 99.31,501.00 99.70,500.47 100.09,499.93 100.47,499.41 100.86,498.89 101.25,498.37 101.64,497.86 102.03,497.35 102.41,496.84 102.80,496.34 103.19,495.85 103.58,495.35 103.96,494.87 104.35,494.38 104.74,493.91 105.12,493.43 105.51,492.96 105.90,492.49 106.29,492.03 106.68,491.57 107.06,491.11 107.45,490.66 107.84,490.22 108.22,489.77 108.61,489.33 109.00,488.90 109.39,488.46 109.78,488.03 110.16,487.61 110.55,487.19 110.94,486.77 111.33,486.36 111.71,485.94 112.10,485.54 112.49,485.13 112.88,484.73 113.26,484.34 113.65,483.94 114.04,483.55 114.43,483.17 114.81,482.78 115.20,482.40 115.59,482.02 115.98,481.65 116.36,481.28 116.75,480.91 117.14,480.55 117.52,480.19 117.91,479.83 118.30,479.47 118.69,479.12 119.08,478.77 119.46,478.42 119.85,478.08 120.24,477.74 120.62,477.40 121.01,477.07 121.40,476.74 121.79,476.41 122.18,476.08 122.56,475.76 122.95,475.44 123.34,475.12 123.73,474.81 124.11,474.49 124.50,474.18 124.89,473.88 125.28,473.57 125.66,473.27 126.05,472.97 126.44,472.67 126.83,472.38 127.21,472.09 127.60,471.80 127.99,471.51 128.38,471.23 128.76,470.94 129.15,470.66 129.54,470.39 129.93,470.11 130.31,469.84 130.70,469.57 131.09,469.30 131.48,469.04 131.86,468.77 132.25,468.51 132.64,468.25 133.03,468.00 133.41,467.74 133.80,467.49 134.19,467.24 134.57,466.99 134.96,466.74 135.35,466.50 135.74,466.26 136.12,466.02 136.51,465.78 136.90,465.55 137.29,465.31 137.68,465.08 138.06,464.85 138.45,464.62 138.84,464.40 139.23,464.17 139.61,463.95 140.00,463.73 140.39,463.51 140.78,463.30 141.16,463.08 141.55,462.87 141.94,462.66 142.32,462.45 142.71,462.24 143.10,462.04 143.49,461.83 143.88,461.63 144.26,461.43 144.65,461.23 145.04,461.04 145.43,460.84 145.81,460.65 146.20,460.45 146.59,460.26 146.98,460.08 147.36,459.89 147.75,459.70 148.14,459.52 148.53,459.34 148.91,459.16 149.30,458.98 149.69,458.80 150.07,458.62 150.46,458.45 150.85,458.27 151.24,458.10 151.62,457.93 152.01,457.76 152.40,457.60 152.79,457.43 153.18,457.27 153.56,457.10 153.95,456.94 154.34,456.78 154.73,456.62 155.11,456.46 155.50,456.31 155.89,456.15 156.28,456.00 156.66,455.85 157.05,455.69 157.44,455.55 157.82,455.40 158.21,455.25 158.60,455.10 158.99,454.96 159.38,454.82 159.76,454.67 160.15,454.53 160.54,454.39 160.93,454.25 161.31,454.12 161.70,453.98 162.09,453.84 162.48,453.71 162.86,453.58 163.25,453.45 163.64,453.31 164.03,453.19 164.41,453.06 164.80,452.93 165.19,452.80 165.57,452.68 165.96,452.55 166.35,452.43 166.74,452.31 167.12,452.19 167.51,452.07 167.90,451.95 168.29,451.83 168.68,451.71 169.06,451.60 169.45,451.48 169.84,451.37 170.23,451.26 170.61,451.14 171.00,451.03 171.39,450.92 171.78,450.81 172.16,450.71 172.55,450.60 172.94,450.49 173.32,450.39 173.71,450.28 174.10,450.18 174.49,450.08 174.88,449.97 175.26,449.87 175.65,449.77 176.04,449.67 176.42,449.57 176.81,449.48 177.20,449.38 177.59,449.28 177.98,449.19 178.36,449.09 178.75,449.00 179.14,448.91 179.53,448.82 179.91,448.72 180.30,448.63 180.69,448.54 181.08,448.46 181.46,448.37 181.85,448.28 182.24,448.19 182.62,448.11 183.01,448.02 183.40,447.94 183.79,447.85 184.17,447.77 184.56,447.69 184.95,447.61 185.34,447.53 185.73,447.45 186.11,447.37 186.50,447.29 186.89,447.21 187.28,447.13 187.66,447.05 188.05,446.98 188.44,446.90 188.83,446.83 189.21,446.75 189.60,446.68 189.99,446.61 190.38,446.53 190.76,446.46 191.15,446.39 191.54,446.32 191.92,446.25 192.31,446.18 192.70,446.11 193.09,446.04 193.48,445.98 193.86,445.91 194.25,445.84 194.64,445.78 195.03,445.71 195.41,445.65 195.80,445.58 196.19,445.52 196.58,445.46 196.96,445.39 197.35,445.33 197.74,445.27 198.12,445.21 198.51,445.15 198.90,445.09 199.29,445.03 199.68,444.97 200.06,444.91 200.45,444.85 200.84,444.80 201.23,444.74 201.61,444.68 202.00,444.63 202.39,444.57 202.78,444.52 203.16,444.46 203.55,444.41 203.94,444.35 204.33,444.30 204.71,444.25 205.10,444.19 205.49,444.14 205.88,444.09 206.26,444.04 206.65,443.99 207.04,443.94 207.43,443.89 207.81,443.84 208.20,443.79 208.59,443.74 208.98,443.70 209.36,443.65 209.75,443.60 210.14,443.55 210.53,443.51 210.91,443.46 211.30,443.42 211.69,443.37 212.08,443.33 212.46,443.28 212.85,443.24 213.24,443.19 213.62,443.15 214.01,443.11 214.40,443.06 214.79,443.02 215.18,442.98 215.56,442.94 215.95,442.90 216.34,442.86 216.73,442.82 217.11,442.78 217.50,442.74 217.89,442.70 218.28,442.66 218.66,442.62 219.05,442.58 219.44,442.54 219.83,442.50 220.21,442.47 220.60,442.43 220.99,442.39 221.38,442.36 221.76,442.32 222.15,442.28 222.54,442.25 222.93,442.21 223.31,442.18 223.70,442.14 224.09,442.11 224.48,442.07 224.86,442.04 225.25,442.01 225.64,441.97 226.03,441.94 226.41,441.91 226.80,441.88 227.19,441.84 227.58,441.81 227.96,441.78 228.35,441.75 228.74,441.72 229.12,441.69 229.51,441.66 229.90,441.63 230.29,441.60 230.68,441.57 231.06,441.54 231.45,441.51 231.84,441.48 232.23,441.45 232.61,441.42 233.00,441.39 233.39,441.37 233.78,441.34 234.16,441.31 234.55,441.28 234.94,441.26 235.33,441.23 235.71,441.20 236.10,441.18 236.49,441.15 236.88,441.12 237.26,441.10 237.65,441.07 238.04,441.05 238.43,441.02 238.81,441.00 239.20,440.97 239.59,440.95 239.98,440.92 240.36,440.90 240.75,440.88 241.14,440.85 241.53,440.83 241.91,440.81 242.30,440.78 242.69,440.76 243.08,440.74 243.46,440.71 243.85,440.69 244.24,440.67 244.62,440.65 245.01,440.63 245.40,440.60 245.79,440.58 246.18,440.56 246.56,440.54 246.95,440.52 247.34,440.50 247.73,440.48 248.11,440.46 248.50,440.44 248.89,440.42 249.28,440.40 249.66,440.38 250.05,440.36 250.44,440.34 250.83,440.32 251.21,440.30 251.60,440.28 251.99,440.27 252.38,440.25 252.76,440.23 253.15,440.21 253.54,440.19 253.93,440.18 254.31,440.16 254.70,440.14 255.09,440.12 255.48,440.11 255.86,440.09 256.25,440.07 256.64,440.05 257.02,440.04 257.41,440.02 257.80,440.01 258.19,439.99 258.58,439.97 258.96,439.96 259.35,439.94 259.74,439.93 260.12,439.91 260.51,439.89 260.90,439.88 261.29,439.86 261.68,439.85 262.06,439.83 262.45,439.82 262.84,439.80 263.23,439.79 263.61,439.78 264.00,439.76 264.39,439.75 264.77,439.73 265.16,439.72 265.55,439.71 265.94,439.69 266.33,439.68 266.71,439.67 267.10,439.65 267.49,439.64 267.88,439.63 268.26,439.61 268.65,439.60 269.04,439.59 269.43,439.57 269.81,439.56 270.20,439.55 270.59,439.54 270.98,439.52 271.36,439.51 271.75,439.50 272.14,439.49 272.52,439.48 272.91,439.47 273.30,439.45 273.69,439.44 274.08,439.43 274.46,439.42 274.85,439.41 275.24,439.40 275.62,439.39 276.01,439.37 276.40,439.36 276.79,439.35 277.18,439.34 277.56,439.33 277.95,439.32 278.34,439.31 278.73,439.30 279.11,439.29 279.50,439.28" fill="none" stroke="#ff5050" stroke-width="1"/>
<polyline points="47.00,637.60 47.39,636.92 47.77,636.25 48.16,635.58 48.55,634.91 48.94,634.25 49.33,633.58 49.71,632.92 50.10,632.26 50.49,631.61 50.88,630.95 51.26,630.30 51.65,629.65 52.04,629.00 52.42,628.35 52.81,627.71 53.20,627.07 53.59,626.43 53.98,625.79 54.36,625.16 54.75,624.52 55.14,623.89 55.52,623.26 55.91,622.64 56.30,622.01 56.69,621.39 57.08,620.77 57.46,620.15 57.85,619.53 58.24,618.92 58.62,618.31 59.01,617.70 59.40,617.09 59.79,616.49 60.17,615.88 60.56,615.28 60.95,614.68 61.34,614.08 61.73,613.49 62.11,612.89 62.50,612.30 62.89,611.71 63.28,611.12 63.66,610.54 64.05,609.96 64.44,609.37 64.83,608.79 65.21,608.22 65.60,607.64 65.99,607.07 66.38,606.50 66.76,605.93 67.15,605.36 67.54,604.79 67.92,604.23 68.31,603.67 68.70,603.10 69.09,602.55 69.47,601.99 69.86,601.44 70.25,600.88 70.64,600.33 71.03,599.78 71.41,599.24 71.80,598.69 72.19,598.15 72.58,597.60 72.96,597.07 73.35,596.53 73.74,595.99 74.12,595.46 74.51,594.92 74.90,594.39 75.29,593.86 75.67,593.34 76.06,592.81 76.45,592.29 76.84,591.77 77.22,591.25 77.61,590.73 78.00,590.21 78.39,589.70 78.78,589.18 79.16,588.67 79.55,588.16 79.94,587.66 80.32,587.15 80.71,586.64 81.10,586.14 81.49,585.64 81.88,585.14 82.26,584.64 82.65,584.15 83.04,583.65 83.43,583.16 83.81,582.67 84.20,582.18 84.59,581.69 84.97,581.21 85.36,580.72 85.75,580.24 86.14,579.76 86.53,579.28 86.91,578.80 87.30,578.33 87.69,577.85 88.08,577.38 88.46,576.91 88.85,576.44 89.24,575.97 89.62,575.50 90.01,575.04 90.40,574.57 90.79,574.11 91.18,573.65 91.56,573.19 91.95,572.74 92.34,572.28 92.72,571.83 93.11,571.37 93.50,570.92 93.89,570.47 94.28,570.03 94.66,569.58 95.05,569.13 95.44,568.69 95.83,568.25 96.21,567.81 96.60,567.37 96.99,566.93 97.38,566.50 97.76,566.06 98.15,565.63 98.54,565.20 98.93,564.77 99.31,564.34 99.70,563.91 100.09,563.48 100.47,563.06 100.86,562.64 101.25,562.22 101.64,561.80 102.03,561.38 102.41,560.96 102.80,560.54 103.19,560.13 103.58,559.72 103.96,559.31 104.35,558.89 104.74,558.49 105.12,558.08 105.51,557.67 105.90,557.27 106.29,556.86 106.68,556.46 107.06,556.06 107.45,555.66 107.84,555.27 108.22,554.87 108.61,554.47 109.00,554.08 109.39,553.69 109.78,553.30 110.16,552.91 110.55,552.52 110.94,552.13 111.33,551.74 111.71,551.36 112.10,550.98 112.49,550.59 112.88,550.21 113.26,549.83 113.65,549.46 114.04,549.08 114.43,548.70 114.81,548.33 115.20,547.96 115.59,547.58 115.98,547.21 116.36,546.84 116.75,546.48 117.14,546.11 117.52,545.74 117.91,545.38 118.30,545.02 118.69,544.66 119.08,544.29 119.46,543.94 119.85,543.58 120.24,543.22 120.62,542.86 121.01,542.51 121.40,542.16 121.79,541.80 122.18,541.45 122.56,541.10 122.95,540.76 123.34,540.41 123.73,540.06 124.11,539.72 124.50,539.37 124.89,539.03 125.28,538.69 125.66,538.35 126.05,538.01 126.44,537.67 126.83,537.33 127.21,537.00 127.60,536.66 127.99,536.33 128.38,536.00 128.76,535.67 129.15,535.34 129.54,535.01 129.93,534.68 130.31,534.35 130.70,534.03 131.09,533.70 131.48,533.38 131.86,533.06 132.25,532.73 132.64,532.41 133.03,532.09 133.41,531.78 133.80,531.46 134.19,531.14 134.57,530.83 134.96,530.51 135.35,530.20 135.74,529.89 136.12,529.58 136.51,529.27 136.90,528.96 137.29,528.65 137.68,528.35 138.06,528.04 138.45,527.74 138.84,527.43 139.23,527.13 139.61,526.83 140.00,526.53 140.39,526.23 140.78,525.93 141.16,525.64 141.55,525.34 141.94,525.04 142.32,524.75 142.71,524.46 143.10,524.16 143.49,523.87 143.88,523.58 144.26,523.29 144.65,523.01 145.04,522.72 145.43,522.43 145.81,522.15 146.20,521.86 146.59,521.58 146.98,521.30 147.36,521.01 147.75,520.73 148.14,520.45 148.53,520.18 148.91,519.90 149.30,519.62 149.69,519.34 150.07,519.07 150.46,518.80 150.85,518.52 151.24,518.25 151.62,517.98 152.01,517.71 152.40,517.44 152.79,517.17 153.18,516.90 153.56,516.64 153.95,516.37 154.34,516.11 154.73,515.84 155.11,515.58 155.50,515.32 155.89,515.06 156.28,514.79 156.66,514.54 157.05,514.28 157.44,514.02 157.82,513.76 158.21,513.51 158.60,513.25 158.99,513.00 159.38,512.74 159.76,512.49 160.15,512.24 160.54,511.99 160.93,511.74 161.31,511.49 161.70,511.24 162.09,510.99 162.48,510.75 162.86,510.50 163.25,510.25 163.64,510.01 164.03,509.77 164.41,509.52 164.80,509.28 165.19,509.04 165.57,508.80 165.96,508.56 166.35,508.32 166.74,508.09 167.12,507.85 167.51,507.61 167.90,507.38 168.29,507.14 168.68,506.91 169.06,506.68 169.45,506.45 169.84,506.21 170.23,505.98 170.61,505.75 171.00,505.52 171.39,505.30 171.78,505.07 172.16,504.84 172.55,504.62 172.94,504.39 173.32,504.17 173.71,503.94 174.10,503.72 174.49,503.50 174.88,503.28 175.26,503.06 175.65,502.84 176.04,502.62 176.42,502.40 176.81,502.18 177.20,501.97 177.59,501.75 177.98,501.53 178.36,501.32 178.75,501.11 179.14,500.89 179.53,500.68 179.91,500.47 180.30,500.26 180.69,500.05 181.08,499.84 181.46,499.63 181.85,499.42 182.24,499.21 182.62,499.00 183.01,498.80 183.40,498.59 183.79,498.39 184.17,498.18 184.56,497.98 184.95,497.78 185.34,497.58 185.73,497.38 186.11,497.17 186.50,496.97 186.89,496.78 187.28,496.58 187.66,496.38 188.05,496.18 188.44,495.99 188.83,495.79 189.21,495.59 189.60,495.40 189.99,495.21 190.38,495.01 190.76,494.82 191.15,494.63 191.54,494.44 191.92,494.25 192.31,494.06 192.70,493.87 193.09,493.68 193.48,493.49 193.86,493.30 194.25,493.12 194.64,492.93 195.03,492.74 195.41,492.56 195.80,492.37 196.19,492.19 196.58,492.01 196.96,491.83 197.35,491.64 197.74,491.46 198.12,491.28 198.51,491.10 198.90,490.92 199.29,490.74 199.68,490.57 200.06,490.39 200.45,490.21 200.84,490.03 201.23,489.86 201.61,489.68 202.00,489.51 202.39,489.34 202.78,489.16 203.16,488.99 203.55,488.82 203.94,488.65 204.33,488.47 204.71,488.30 205.10,488.13 205.49,487.96 205.88,487.80 206.26,487.63 206.65,487.46 207.04,487.29 207.43,487.13 207.81,486.96 208.20,486.79 208.59,486.63 208.98,486.47 209.36,486.30 209.75,486.14 210.14,485.98 210.53,485.81 210.91,485.65 211.30,485.49 211.69,485.33 212.08,485.17 212.46,485.01 212.85,484.85 213.24,484.70 213.62,484.54 214.01,484.38 214.40,484.22 214.79,484.07 215.18,483.91 215.56,483.76 215.95,483.60 216.34,483.45 216.73,483.30 217.11,483.14 217.50,482.99 217.89,482.84 218.28,482.69 218.66,482.54 219.05,482.39 219.44,482.24 219.83,482.09 220.21,481.94 220.60,481.79 220.99,481.64 221.38,481.49 221.76,481.35 222.15,481.20 222.54,481.05 222.93,480.91 223.31,480.76 223.70,480.62 224.09,480.48 224.48,480.33 224.86,480.19 225.25,480.05 225.64,479.91 226.03,479.76 226.41,479.62 226.80,479.48 227.19,479.34 227.58,479.20 227.96,479.06 228.35,478.92 228.74,478.79 229.12,478.65 229.51,478.51 229.90,478.38 230.29,478.24 230.68,478.10 231.06,477.97 231.45,477.83 231.84,477.70 232.23,477.56 232.61,477.43 233.00,477.30 233.39,477.16 233.78,477.03 234.16,476.90 234.55,476.77 234.94,476.64 235.33,476.51 235.71,476.38 236.10,476.25 236.49,476.12 236.88,475.99 237.26,475.86 237.65,475.73 238.04,475.61 238.43,475.48 238.81,475.35 239.20,475.23 239.59,475.10 239.98,474.98 240.36,474.85 240.75,474.73 241.14,474.60 241.53,474.48 241.91,474.36 242.30,474.23 242.69,474.11 243.08,473.99 243.46,473.87 243.85,473.75 244.24,473.63 244.62,473.51 245.01,473.39 245.40,473.27 245.79,473.15 246.18,473.03 246.56,472.91 246.95,472.79 247.34,472.68 247.73,472.56 248.11,472.44 248.50,472.33 248.89,472.21 249.28,472.10 249.66,471.98 250.05,471.87 250.44,471.75 250.83,471.64 251.21,471.52 251.60,471.41 251.99,471.30 252.38,471.19 252.76,471.07 253.15,470.96 253.54,470.85 253.93,470.74 254.31,470.63 254.70,470.52 255.09,470.41 255.48,470.30 255.86,470.19 256.25,470.08 256.64,469.98 257.02,469.87 257.41,469.76 257.80,469.65 258.19,469.55 258.58,469.44 258.96,469.33 259.35,469.23 259.74,469.12 260.12,469.02 260.51,468.91 260.90,468.81 261.29,468.70 261.68,468.60 262.06,468.50 262.45,468.39 262.84,468.29 263.23,468.19 263.61,468.09 264.00,467.99 264.39,467.89 264.77,467.78 265.16,467.68 265.55,467.58 265.94,467.48 266.33,467.38 266.71,467.29 267.10,467.19 267.49,467.09 267.88,466.99 268.26,466.89 268.65,466.80 269.04,466.70 269.43,466.60 269.81,466.50 270.20,466.41 270.59,466.31 270.98,466.22 271.36,466.12 271.75,466.03 272.14,465.93 272.52,465.84 272.91,465.74 273.30,465.65 273.69,465.56 274.08,465.47 274.46,465.37 274.85,465.28 275.24,465.19 275.62,465.10 276.01,465.01 276.40,464.91 276.79,464.82 277.18,464.73 277.56,464.64 277.95,464.55 278.34,464.46 278.73,464.37 279.11,464.29 279.50,464.20" fill="none" stroke="#ff5050" stroke-width="1"/>
<polyline points="47.00,637.60 47.39,637.24 47.77,636.88 48.16,636.52 48.55,636.16 48.94,635.80 49.33,635.45 49.71,635.09 50.10,634.73 50.49,634.38 50.88,634.02 51.26,633.67 51.65,633.31 52.04,632.96 52.42,632.61 52.81,632.26 53.20,631.91 53.59,631.55 53.98,631.21 54.36,630.86 54.75,630.51 55.14,630.16 55.52,629.81 55.91,629.47 56.30,629.12 56.69,628.77 57.08,628.43 57.46,628.08 57.85,627.74 58.24,627.40 58.62,627.06 59.01,626.71 59.40,626.37 59.79,626.03 60.17,625.69 60.56,625.35 60.95,625.02 61.34,624.68 61.73,624.34 62.11,624.00 62.50,623.67 62.89,623.33 63.28,623.00 63.66,622.66 64.05,622.33 64.44,621.99 64.83,621.66 65.21,621.33 65.60,621.00 65.99,620.67 66.38,620.34 66.76,620.01 67.15,619.68 67.54,619.35 67.92,619.02 68.31,618.70 68.70,618.37 69.09,618.04 69.47,617.72 69.86,617.39 70.25,617.07 70.64,616.75 71.03,616.42 71.41,616.10 71.80,615.78 72.19,615.46 72.58,615.14 72.96,614.82 73.35,614.50 73.74,614.18 74.12,613.86 74.51,613.54 74.90,613.22 75.29,612.91 75.67,612.59 76.06,612.28 76.45,611.96 76.84,611.65 77.22,611.33 77.61,611.02 78.00,610.71 78.39,610.39 78.78,610.08 79.16,609.77 79.55,609.46 79.94,609.15 80.32,608.84 80.71,608.53 81.10,608.23 81.49,607.92 81.88,607.61 82.26,607.30 82.65,607.00 83.04,606.69 83.43,606.39 83.81,606.08 84.20,605.78 84.59,605.48 84.97,605.17 85.36,604.87 85.75,604.57 86.14,604.27 86.53,603.97 86.91,603.67 87.30,603.37 87.69,603.07 88.08,602.77 88.46,602.47 88.85,602.18 89.24,601.88 89.62,601.58 90.01,601.29 90.40,600.99 90.79,600.70 91.18,600.40 91.56,600.11 91.95,599.82 92.34,599.53 92.72,599.23 93.11,598.94 93.50,598.65 93.89,598.36 94.28,598.07 94.66,597.78 95.05,597.49 95.44,597.20 95.83,596.92 96.21,596.63 96.60,596.34 96.99,596.06 97.38,595.77 97.76,595.49 98.15,595.20 98.54,594.92 98.93,594.63 99.31,594.35 99.70,594.07 100.09,593.79 100.47,593.50 100.86,593.22 101.25,592.94 101.64,592.66 102.03,592.38 102.41,592.10 102.80,591.83 103.19,591.55 103.58,591.27 103.96,590.99 104.35,590.72 104.74,590.44 105.12,590.17 105.51,589.89 105.90,589.62 106.29,589.34 106.68,589.07 107.06,588.80 107.45,588.52 107.84,588.25 108.22,587.98 108.61,587.71 109.00,587.44 109.39,587.17 109.78,586.90 110.16,586.63 110.55,586.36 110.94,586.09 111.33,585.83 111.71,585.56 112.10,585.29 112.49,585.03 112.88,584.76 113.26,584.49 113.65,584.23 114.04,583.97 114.43,583.70 114.81,583.44 115.20,583.18 115.59,582.91 115.98,582.65 116.36,582.39 116.75,582.13 117.14,581.87 117.52,581.61 117.91,581.35 118.30,581.09 118.69,580.83 119.08,580.57 119.46,580.32 119.85,580.06 120.24,579.80 120.62,579.55 121.01,579.29 121.40,579.03 121.79,578.78 122.18,578.53 122.56,578.27 122.95,578.02 123.34,577.76 123.73,577.51 124.11,577.26 124.50,577.01 124.89,576.76 125.28,576.51 125.66,576.26 126.05,576.01 126.44,575.76 126.83,575.51 127.21,575.26 127.60,575.01 127.99,574.76 128.38,574.52 128.76,574.27 129.15,574.02 129.54,573.78 129.93,573.53 130.31,573.29 130.70,573.04 131.09,572.80 131.48,572.56 131.86,572.31 132.25,572.07 132.64,571.83 133.03,571.59 133.41,571.34 133.80,571.10 134.19,570.86 134.57,570.62 134.96,570.38 135.35,570.14 135.74,569.91 136.12,569.67 136.51,569.43 136.90,569.19 137.29,568.95 137.68,568.72 138.06,568.48 138.45,568.25 138.84,568.01 139.23,567.78 139.61,567.54 140.00,567.31 140.39,567.07 140.78,566.84 141.16,566.61 141.55,566.37 141.94,566.14 142.32,565.91 142.71,565.68 143.10,565.45 143.49,565.22 143.88,564.99 144.26,564.76 144.65,564.53 145.04,564.30 145.43,564.07 145.81,563.85 146.20,563.62 146.59,563.39 146.98,563.17 147.36,562.94 147.75,562.71 148.14,562.49 148.53,562.26 148.91,562.04 149.30,561.81 149.69,561.59 150.07,561.37 150.46,561.14 150.85,560.92 151.24,560.70 151.62,560.48 152.01,560.26 152.40,560.04 152.79,559.82 153.18,559.60 153.56,559.38 153.95,559.16 154.34,558.94 154.73,558.72 155.11,558.50 155.50,558.28 155.89,558.07 156.28,557.85 156.66,557.63 157.05,557.42 157.44,557.20 157.82,556.98 158.21,556.77 158.60,556.56 158.99,556.34 159.38,556.13 159.76,555.91 160.15,555.70 160.54,555.49 160.93,555.28 161.31,555.06 161.70,554.85 162.09,554.64 162.48,554.43 162.86,554.22 163.25,554.01 163.64,553.80 164.03,553.59 164.41,553.38 164.80,553.17 165.19,552.97 165.57,552.76 165.96,552.55 166.35,552.34 166.74,552.14 167.12,551.93 167.51,551.73 167.90,551.52 168.29,551.31 168.68,551.11 169.06,550.91 169.45,550.70 169.84,550.50 170.23,550.29 170.61,550.09 171.00,549.89 171.39,549.69 171.78,549.49 172.16,549.28 172.55,549.08 172.94,548.88 173.32,548.68 173.71,548.48 174.10,548.28 174.49,548.08 174.88,547.88 175.26,547.69 175.65,547.49 176.04,547.29 176.42,547.09 176.81,546.89 177.20,546.70 177.59,546.50 177.98,546.31 178.36,546.11 178.75,545.91 179.14,545.72 179.53,545.53 179.91,545.33 180.30,545.14 180.69,544.94 181.08,544.75 181.46,544.56 181.85,544.36 182.24,544.17 182.62,543.98 183.01,543.79 183.40,543.60 183.79,543.41 184.17,543.22 184.56,543.03 184.95,542.84 185.34,542.65 185.73,542.46 186.11,542.27 186.50,542.08 186.89,541.89 187.28,541.71 187.66,541.52 188.05,541.33 188.44,541.14 188.83,540.96 189.21,540.77 189.60,540.59 189.99,540.40 190.38,540.22 190.76,540.03 191.15,539.85 191.54,539.66 191.92,539.48 192.31,539.30 192.70,539.11 193.09,538.93 193.48,538.75 193.86,538.57 194.25,538.38 194.64,538.20 195.03,538.02 195.41,537.84 195.80,537.66 196.19,537.48 196.58,537.30 196.96,537.12 197.35,536.94 197.74,536.76 198.12,536.59 198.51,536.41 198.90,536.23 199.29,536.05 199.68,535.88 200.06,535.70 200.45,535.52 200.84,535.35 201.23,535.17 201.61,534.99 202.00,534.82 202.39,534.64 202.78,534.47 203.16,534.30 203.55,534.12 203.94,533.95 204.33,533.77 204.71,533.60 205.10,533.43 205.49,533.26 205.88,533.08 206.26,532.91 206.65,532.74 207.04,532.57 207.43,532.40 207.81,532.23 208.20,532.06 208.59,531.89 208.98,531.72 209.36,531.55 209.75,531.38 210.14,531.21 210.53,531.04 210.91,530.88 211.30,530.71 211.69,530.54 212.08,530.37 212.46,530.21 212.85,530.04 213.24,529.87 213.62,529.71 214.01,529.54 214.40,529.38 214.79,529.21 215.18,529.05 215.56,528.88 215.95,528.72 216.34,528.55 216.73,528.39 217.11,528.23 217.50,528.06 217.89,527.90 218.28,527.74 218.66,527.58 219.05,527.42 219.44,527.25 219.83,527.09 220.21,526.93 220.60,526.77 220.99,526.61 221.38,526.45 221.76,526.29 222.15,526.13 222.54,525.97 222.93,525.81 223.31,525.65 223.70,525.50 224.09,525.34 224.48,525.18 224.86,525.02 225.25,524.87 225.64,524.71 226.03,524.55 226.41,524.40 226.80,524.24 227.19,524.08 227.58,523.93 227.96,523.77 228.35,523.62 228.74,523.46 229.12,523.31 229.51,523.16 229.90,523.00 230.29,522.85 230.68,522.69 231.06,522.54 231.45,522.39 231.84,522.24 232.23,522.08 232.61,521.93 233.00,521.78 233.39,521.63 233.78,521.48 234.16,521.33 234.55,521.18 234.94,521.03 235.33,520.88 235.71,520.73 236.10,520.58 236.49,520.43 236.88,520.28 237.26,520.13 237.65,519.98 238.04,519.84 238.43,519.69 238.81,519.54 239.20,519.39 239.59,519.25 239.98,519.10 240.36,518.95 240.75,518.81 241.14,518.66 241.53,518.51 241.91,518.37 242.30,518.22 242.69,518.08 243.08,517.93 243.46,517.79 243.85,517.65 244.24,517.50 244.62,517.36 245.01,517.22 245.40,517.07 245.79,516.93 246.18,516.79 246.56,516.64 246.95,516.50 247.34,516.36 247.73,516.22 248.11,516.08 248.50,515.94 248.89,515.80 249.28,515.66 249.66,515.52 250.05,515.38 250.44,515.24 250.83,515.10 251.21,514.96 251.60,514.82 251.99,514.68 252.38,514.54 252.76,514.40 253.15,514.26 253.54,514.13 253.93,513.99 254.31,513.85 254.70,513.71 255.09,513.58 255.48,513.44 255.86,513.31 256.25,513.17 256.64,513.03 257.02,512.90 257.41,512.76 257.80,512.63 258.19,512.49 258.58,512.36 258.96,512.22 259.35,512.09 259.74,511.96 260.12,511.82 260.51,511.69 260.90,511.56 261.29,511.42 261.68,511.29 262.06,511.16 262.45,511.03 262.84,510.89 263.23,510.76 263.61,510.63 264.00,510.50 264.39,510.37 264.77,510.24 265.16,510.11 265.55,509.98 265.94,509.85 266.33,509.72 266.71,509.59 267.10,509.46 267.49,509.33 267.88,509.20 268.26,509.07 268.65,508.94 269.04,508.82 269.43,508.69 269.81,508.56 270.20,508.43 270.59,508.31 270.98,508.18 271.36,508.05 271.75,507.93 272.14,507.80 272.52,507.67 272.91,507.55 273.30,507.42 273.69,507.30 274.08,507.17 274.46,507.05 274.85,506.92 275.24,506.80 275.62,506.67 276.01,506.55 276.40,506.43 276.79,506.30 277.18,506.18 277.56,506.06 277.95,505.93 278.34,505.81 278.73,505.69 279.11,505.57 279.50,505.44" fill="none" stroke="#ff5050" stroke-width="1"/>
<line x1="47.00" y1="418.15" x2="47.00" y2="638.40" stroke="#6a6a6a" stroke-width="1.6"/>
<line x1="46.20" y1="637.60" x2="298.88" y2="637.60" stroke="#5e5e5e" stroke-width="1.6"/>
<line x1="43.40" y1="637.60" x2="47.00" y2="637.60" stroke="#333" stroke-width="1"/>
<line x1="45.20" y1="617.65" x2="47.00" y2="617.65" stroke="#333" stroke-width="1"/>
<line x1="43.40" y1="597.70" x2="47.00" y2="597.70" stroke="#333" stroke-width="1"/>
<line x1="45.20" y1="577.75" x2="47.00" y2="577.75" stroke="#333" stroke-width="1"/>
<line x1="43.40" y1="557.80" x2="47.00" y2="557.80" stroke="#333" stroke-width="1"/>
<line x1="45.20" y1="537.85" x2="47.00" y2="537.85" stroke="#333" stroke-width="1"/>
<line x1="43.40" y1="517.90" x2="47.00" y2="517.90" stroke="#333" stroke-width="1"/>
<line x1="45.20" y1="497.95" x2="47.00" y2="497.95" stroke="#333" stroke-width="1"/>
<line x1="43.40" y1="478.00" x2="47.00" y2="478.00" stroke="#333" stroke-width="1"/>
<line x1="45.20" y1="458.05" x2="47.00" y2="458.05" stroke="#333" stroke-width="1"/>
<line x1="43.40" y1="438.10" x2="47.00" y2="438.10" stroke="#333" stroke-width="1"/>
<line x1="45.20" y1="418.15" x2="47.00" y2="418.15" stroke="#333" stroke-width="1"/>
<line x1="47.00" y1="637.60" x2="47.00" y2="642.80" stroke="#333" stroke-width="1"/>
<line x1="66.38" y1="637.60" x2="66.38" y2="640.20" stroke="#333" stroke-width="1"/>
<line x1="85.75" y1="637.60" x2="85.75" y2="642.80" stroke="#333" stroke-width="1"/>
<line x1="105.12" y1="637.60" x2="105.12" y2="640.20" stroke="#333" stroke-width="1"/>
<line x1="124.50" y1="637.60" x2="124.50" y2="642.80" stroke="#333" stroke-width="1"/>
<line x1="143.88" y1="637.60" x2="143.88" y2="640.20" stroke="#333" stroke-width="1"/>
<line x1="163.25" y1="637.60" x2="163.25" y2="642.80" stroke="#333" stroke-width="1"/>
<line x1="182.62" y1="637.60" x2="182.62" y2="640.20" stroke="#333" stroke-width="1"/>
<line x1="202.00" y1="637.60" x2="202.00" y2="642.80" stroke="#333" stroke-width="1"/>
<line x1="221.38" y1="637.60" x2="221.38" y2="640.20" stroke="#333" stroke-width="1"/>
<line x1="240.75" y1="637.60" x2="240.75" y2="642.80" stroke="#333" stroke-width="1"/>
<line x1="260.12" y1="637.60" x2="260.12" y2="640.20" stroke="#333" stroke-width="1"/>
<line x1="279.50" y1="637.60" x2="279.50" y2="642.80" stroke="#333" stroke-width="1"/>
<line x1="298.88" y1="637.60" x2="298.88" y2="640.20" stroke="#333" stroke-width="1"/>
<text x="34.67" y="643.20" font-size="17" textLength="7.64" lengthAdjust="spacingAndGlyphs">0</text>
<text x="27.04" y="603.30" font-size="17" textLength="15.27" lengthAdjust="spacingAndGlyphs">20</text>
<text x="27.04" y="563.40" font-size="17" textLength="15.27" lengthAdjust="spacingAndGlyphs">40</text>
<text x="27.04" y="523.50" font-size="17" textLength="15.27" lengthAdjust="spacingAndGlyphs">60</text>
<text x="27.04" y="483.60" font-size="17" textLength="15.27" lengthAdjust="spacingAndGlyphs">80</text>
<text x="19.40" y="443.70" font-size="17" textLength="22.91" lengthAdjust="spacingAndGlyphs">100</text>
<text x="43.18" y="658.30" font-size="17" textLength="7.64" lengthAdjust="spacingAndGlyphs">0</text>
<text x="77.77" y="658.30" font-size="17" textLength="15.27" lengthAdjust="spacingAndGlyphs">10</text>
<text x="116.83" y="658.30" font-size="17" textLength="15.27" lengthAdjust="spacingAndGlyphs">20</text>
<text x="155.58" y="658.30" font-size="17" textLength="15.27" lengthAdjust="spacingAndGlyphs">30</text>
<text x="194.52" y="658.30" font-size="17" textLength="15.27" lengthAdjust="spacingAndGlyphs">40</text>
<text x="232.96" y="658.30" font-size="17" textLength="15.27" lengthAdjust="spacingAndGlyphs">50</text>
<text x="271.86" y="658.30" font-size="17" textLength="15.27" lengthAdjust="spacingAndGlyphs">60</text>
<rect x="45.44" y="629.71" width="7" height="7" fill="#000"/>
<rect x="51.25" y="613.95" width="7" height="7" fill="#000"/>
<rect x="55.12" y="595.80" width="7" height="7" fill="#000"/>
<rect x="62.88" y="567.47" width="7" height="7" fill="#000"/>
<rect x="82.25" y="517.59" width="7" height="7" fill="#000"/>
<rect x="101.62" y="484.87" width="7" height="7" fill="#000"/>
<rect x="159.75" y="449.96" width="7" height="7" fill="#000"/>
<rect x="276.00" y="434.60" width="7" height="7" fill="#000"/>
<circle cx="50.88" cy="631.62" r="3.9" fill="#ff0000"/>
<circle cx="54.75" cy="623.04" r="3.9" fill="#ff0000"/>
<circle cx="58.62" cy="618.05" r="3.9" fill="#ff0000"/>
<circle cx="66.38" cy="607.87" r="3.9" fill="#ff0000"/>
<circle cx="85.75" cy="580.54" r="3.9" fill="#ff0000"/>
<circle cx="105.12" cy="559.40" r="3.9" fill="#ff0000"/>
<circle cx="163.25" cy="510.32" r="3.9" fill="#ff0000"/>
<circle cx="279.50" cy="462.84" r="3.9" fill="#ff0000"/>
<polygon points="44.24,640.20 53.64,640.20 48.94,631.60" fill="#00ff00"/>
<polygon points="46.17,638.81 55.58,638.81 50.88,630.21" fill="#00ff00"/>
<polygon points="50.05,633.42 59.45,633.42 54.75,624.82" fill="#00ff00"/>
<polygon points="53.92,631.23 63.33,631.23 58.62,622.63" fill="#00ff00"/>
<polygon points="61.67,623.05 71.08,623.05 66.38,614.45" fill="#00ff00"/>
<polygon points="81.05,608.28 90.45,608.28 85.75,599.68" fill="#00ff00"/>
<polygon points="100.42,593.72 109.83,593.72 105.12,585.12" fill="#00ff00"/>
<polygon points="158.55,558.21 167.95,558.21 163.25,549.61" fill="#00ff00"/>
<polygon points="274.80,513.32 284.20,513.32 279.50,504.72" fill="#00ff00"/>
<rect x="123.90" y="582.80" width="7.2" height="7.2" fill="#000"/>
<circle cx="127.50" cy="607.70" r="4" fill="#ff0000"/>
<polygon points="122.80,632.00 132.20,632.00 127.50,623.00" fill="#00ff00"/>
<text x="142.66" y="591.10" font-size="15" textLength="68.67" lengthAdjust="spacingAndGlyphs">V.NgoAXIV</text>
<text x="212.19" y="591.10" font-size="15" textLength="10.31" lengthAdjust="spacingAndGlyphs">+</text>
<text x="223.08" y="591.10" font-size="15" textLength="31.69" lengthAdjust="spacingAndGlyphs">MutL</text>
<text x="253.94" y="597.40" font-size="9.5" font-style="italic" textLength="13.11" lengthAdjust="spacingAndGlyphs">Ngo</text>
<text x="266.69" y="591.10" font-size="15" textLength="10.31" lengthAdjust="spacingAndGlyphs">+</text>
<text x="277.59" y="591.10" font-size="15" textLength="30.69" lengthAdjust="spacingAndGlyphs">MutS</text>
<text x="309.67" y="591.10" font-size="15" textLength="38.22" lengthAdjust="spacingAndGlyphs">(1:2:2)</text>
<text x="349.18" y="591.10" font-size="15" textLength="10.43" lengthAdjust="spacingAndGlyphs">+</text>
<text x="360.46" y="591.10" font-size="15" textLength="25.46" lengthAdjust="spacingAndGlyphs">ATP</text>
<text x="142.66" y="612.00" font-size="15" textLength="68.67" lengthAdjust="spacingAndGlyphs">V.NgoAXIV</text>
<text x="212.19" y="612.00" font-size="15" textLength="10.31" lengthAdjust="spacingAndGlyphs">+</text>
<text x="223.08" y="612.00" font-size="15" textLength="31.69" lengthAdjust="spacingAndGlyphs">MutL</text>
<text x="253.94" y="618.30" font-size="9.5" font-style="italic" textLength="13.11" lengthAdjust="spacingAndGlyphs">Ngo</text>
<text x="266.69" y="612.00" font-size="15" textLength="10.31" lengthAdjust="spacingAndGlyphs">+</text>
<text x="277.59" y="612.00" font-size="15" textLength="30.69" lengthAdjust="spacingAndGlyphs">MutS</text>
<text x="309.67" y="612.00" font-size="15" textLength="38.22" lengthAdjust="spacingAndGlyphs">(1:1:1)</text>
<text x="349.18" y="612.00" font-size="15" textLength="10.43" lengthAdjust="spacingAndGlyphs">+</text>
<text x="360.46" y="612.00" font-size="15" textLength="25.46" lengthAdjust="spacingAndGlyphs">ATP</text>
<text x="142.66" y="633.30" font-size="15" textLength="68.67" lengthAdjust="spacingAndGlyphs">V.NgoAXIV</text>
<text x="140.71" y="685.90" font-size="16.8" textLength="67.01" lengthAdjust="spacingAndGlyphs">Time (min)</text>
<g transform="translate(14.40,575.00) rotate(-90)"><text x="-0.60" y="0.00" font-size="17" textLength="71.45" lengthAdjust="spacingAndGlyphs">% Product</text></g>
<clipPath id="c1"><rect x="420.5" y="27.3" width="218.00" height="71.10"/></clipPath>
<g clip-path="url(#c1)"><g filter="url(#bl)">
<rect x="418.5" y="25.3" width="222.00" height="75.10" fill="#929292"/>
<linearGradient id="gp1" x1="0" y1="27.3" x2="0" y2="98.4" gradientUnits="userSpaceOnUse"><stop offset="0.0000" stop-color="#919191"/><stop offset="0.5162" stop-color="#969696"/><stop offset="0.6287" stop-color="#b2b2b2"/><stop offset="0.7412" stop-color="#c3c3c3"/><stop offset="0.8256" stop-color="#afafaf"/><stop offset="0.8819" stop-color="#9b9b9b"/><stop offset="1.0000" stop-color="#929292"/></linearGradient>
<rect x="441.3" y="27.3" width="197.20" height="71.10" fill="url(#gp1)"/>
<rect x="418.5" y="25.3" width="22.80" height="75.10" fill="#8e8e8e"/>
<rect x="445.90" y="73.00" width="186.70" height="12" fill="#c3c3c3" filter="url(#bl3)"/>
<linearGradient id="g1_0" x1="0" y1="27.3" x2="0" y2="98.4" gradientUnits="userSpaceOnUse"><stop offset="0.0000" stop-color="#505050"/><stop offset="0.1041" stop-color="#505050"/><stop offset="0.1153" stop-color="#050505"/><stop offset="0.2208" stop-color="#080808"/><stop offset="0.2630" stop-color="#1e1e1e"/><stop offset="0.3193" stop-color="#464646"/><stop offset="0.3896" stop-color="#5f5f5f"/><stop offset="0.4599" stop-color="#707070"/><stop offset="0.5443" stop-color="#8c8c8c"/><stop offset="0.6287" stop-color="#b2b2b2"/><stop offset="0.7131" stop-color="#cacaca"/><stop offset="0.7975" stop-color="#bcbcbc"/><stop offset="0.8678" stop-color="#9b9b9b"/><stop offset="0.9241" stop-color="#929292"/><stop offset="1.0000" stop-color="#929292"/></linearGradient>
<rect x="445.90" y="27.3" width="16" height="71.10" fill="url(#g1_0)"/>
<linearGradient id="g1_1" x1="0" y1="27.3" x2="0" y2="98.4" gradientUnits="userSpaceOnUse"><stop offset="0.0000" stop-color="#565656"/><stop offset="0.1041" stop-color="#565656"/><stop offset="0.1153" stop-color="#080808"/><stop offset="0.2068" stop-color="#0c0c0c"/><stop offset="0.2489" stop-color="#282828"/><stop offset="0.3193" stop-color="#505050"/><stop offset="0.3896" stop-color="#646464"/><stop offset="0.4599" stop-color="#737373"/><stop offset="0.5443" stop-color="#8e8e8e"/><stop offset="0.6287" stop-color="#b2b2b2"/><stop offset="0.7131" stop-color="#cacaca"/><stop offset="0.7975" stop-color="#bcbcbc"/><stop offset="0.8678" stop-color="#9b9b9b"/><stop offset="0.9241" stop-color="#929292"/><stop offset="1.0000" stop-color="#929292"/></linearGradient>
<rect x="467.30" y="27.3" width="16" height="71.10" fill="url(#g1_1)"/>
<linearGradient id="g1_2" x1="0" y1="27.3" x2="0" y2="98.4" gradientUnits="userSpaceOnUse"><stop offset="0.0000" stop-color="#6e6e6e"/><stop offset="0.1041" stop-color="#6e6e6e"/><stop offset="0.1153" stop-color="#0a0a0a"/><stop offset="0.1505" stop-color="#0f0f0f"/><stop offset="0.1786" stop-color="#2a2a2a"/><stop offset="0.2911" stop-color="#3a3a3a"/><stop offset="0.3333" stop-color="#3e3e3e"/><stop offset="0.3755" stop-color="#505050"/><stop offset="0.4318" stop-color="#606060"/><stop offset="0.5162" stop-color="#7a7a7a"/><stop offset="0.6006" stop-color="#9a9a9a"/><stop offset="0.6428" stop-color="#b4b4b4"/><stop offset="0.7271" stop-color="#c6c6c6"/><stop offset="0.8115" stop-color="#b2b2b2"/><stop offset="0.8678" stop-color="#9b9b9b"/><stop offset="0.9241" stop-color="#929292"/><stop offset="1.0000" stop-color="#929292"/></linearGradient>
<rect x="488.60" y="27.3" width="16" height="71.10" fill="url(#g1_2)"/>
<path d="M489.20,51.60 Q490.70,53.10 496.60,53.10 T504.00,51.60" fill="none" stroke="#373737" stroke-width="1.8"/>
<path d="M489.20,68.30 Q490.70,69.80 496.60,69.80 T504.00,68.30" fill="none" stroke="#7d7d7d" stroke-width="1.5"/>
<linearGradient id="g1_3" x1="0" y1="27.3" x2="0" y2="98.4" gradientUnits="userSpaceOnUse"><stop offset="0.0000" stop-color="#6c6c6c"/><stop offset="0.1041" stop-color="#6c6c6c"/><stop offset="0.1153" stop-color="#1e1e1e"/><stop offset="0.1505" stop-color="#373737"/><stop offset="0.2068" stop-color="#4b4b4b"/><stop offset="0.3193" stop-color="#555555"/><stop offset="0.3755" stop-color="#585858"/><stop offset="0.4318" stop-color="#696969"/><stop offset="0.5162" stop-color="#808080"/><stop offset="0.5724" stop-color="#8c8c8c"/><stop offset="0.6428" stop-color="#b4b4b4"/><stop offset="0.7271" stop-color="#c6c6c6"/><stop offset="0.8115" stop-color="#b2b2b2"/><stop offset="0.8678" stop-color="#9b9b9b"/><stop offset="0.9241" stop-color="#929292"/><stop offset="1.0000" stop-color="#929292"/></linearGradient>
<rect x="510.30" y="27.3" width="16" height="71.10" fill="url(#g1_3)"/>
<path d="M510.90,35.30 Q512.40,36.80 518.30,36.80 T525.70,35.30" fill="none" stroke="#141414" stroke-width="2"/>
<path d="M510.90,51.80 Q512.40,53.30 518.30,53.30 T525.70,51.80" fill="none" stroke="#323232" stroke-width="2"/>
<path d="M510.90,68.30 Q512.40,69.80 518.30,69.80 T525.70,68.30" fill="none" stroke="#696969" stroke-width="1.8"/>
<linearGradient id="g1_4" x1="0" y1="27.3" x2="0" y2="98.4" gradientUnits="userSpaceOnUse"><stop offset="0.0000" stop-color="#6a6a6a"/><stop offset="0.1041" stop-color="#6a6a6a"/><stop offset="0.1153" stop-color="#505050"/><stop offset="0.1786" stop-color="#5c5c5c"/><stop offset="0.3193" stop-color="#6a6a6a"/><stop offset="0.3755" stop-color="#5f5f5f"/><stop offset="0.4318" stop-color="#6c6c6c"/><stop offset="0.5162" stop-color="#828282"/><stop offset="0.5724" stop-color="#8c8c8c"/><stop offset="0.6428" stop-color="#b4b4b4"/><stop offset="0.7271" stop-color="#c6c6c6"/><stop offset="0.8115" stop-color="#b2b2b2"/><stop offset="0.8678" stop-color="#9b9b9b"/><stop offset="0.9241" stop-color="#929292"/><stop offset="1.0000" stop-color="#929292"/></linearGradient>
<rect x="530.90" y="27.3" width="16" height="71.10" fill="url(#g1_4)"/>
<path d="M531.50,35.20 Q533.00,36.70 538.90,36.70 T546.30,35.20" fill="none" stroke="#3a3a3a" stroke-width="2"/>
<path d="M531.50,52.10 Q533.00,53.60 538.90,53.60 T546.30,52.10" fill="none" stroke="#2e2e2e" stroke-width="2"/>
<path d="M531.50,68.10 Q533.00,69.60 538.90,69.60 T546.30,68.10" fill="none" stroke="#646464" stroke-width="2"/>
<linearGradient id="g1_5" x1="0" y1="27.3" x2="0" y2="98.4" gradientUnits="userSpaceOnUse"><stop offset="0.0000" stop-color="#7a7a7a"/><stop offset="0.1041" stop-color="#7a7a7a"/><stop offset="0.1153" stop-color="#747474"/><stop offset="0.3193" stop-color="#747474"/><stop offset="0.3755" stop-color="#646464"/><stop offset="0.4037" stop-color="#686868"/><stop offset="0.5443" stop-color="#909090"/><stop offset="0.6428" stop-color="#b4b4b4"/><stop offset="0.7271" stop-color="#c6c6c6"/><stop offset="0.8115" stop-color="#b2b2b2"/><stop offset="0.8678" stop-color="#9b9b9b"/><stop offset="0.9241" stop-color="#929292"/><stop offset="1.0000" stop-color="#929292"/></linearGradient>
<rect x="552.40" y="27.3" width="16" height="71.10" fill="url(#g1_5)"/>
<path d="M553.00,34.80 Q554.50,36.30 560.40,36.30 T567.80,34.80" fill="none" stroke="#646464" stroke-width="1.5"/>
<path d="M553.00,52.10 Q554.50,53.60 560.40,53.60 T567.80,52.10" fill="none" stroke="#3c3c3c" stroke-width="2"/>
<path d="M553.00,67.80 Q554.50,69.30 560.40,69.30 T567.80,67.80" fill="none" stroke="#686868" stroke-width="2"/>
<linearGradient id="g1_6" x1="0" y1="27.3" x2="0" y2="98.4" gradientUnits="userSpaceOnUse"><stop offset="0.0000" stop-color="#878787"/><stop offset="0.1041" stop-color="#878787"/><stop offset="0.1153" stop-color="#878787"/><stop offset="0.3193" stop-color="#878787"/><stop offset="0.3755" stop-color="#767676"/><stop offset="0.4037" stop-color="#7a7a7a"/><stop offset="0.5162" stop-color="#9c9c9c"/><stop offset="0.5584" stop-color="#969696"/><stop offset="0.6428" stop-color="#b4b4b4"/><stop offset="0.7271" stop-color="#c6c6c6"/><stop offset="0.8115" stop-color="#b2b2b2"/><stop offset="0.8678" stop-color="#9b9b9b"/><stop offset="0.9241" stop-color="#929292"/><stop offset="1.0000" stop-color="#929292"/></linearGradient>
<rect x="573.70" y="27.3" width="16" height="71.10" fill="url(#g1_6)"/>
<path d="M574.30,51.80 Q575.80,53.30 581.70,53.30 T589.10,51.80" fill="none" stroke="#4b4b4b" stroke-width="2.2"/>
<path d="M574.30,68.30 Q575.80,69.80 581.70,69.80 T589.10,68.30" fill="none" stroke="#787878" stroke-width="2"/>
<linearGradient id="g1_7" x1="0" y1="27.3" x2="0" y2="98.4" gradientUnits="userSpaceOnUse"><stop offset="0.0000" stop-color="#878787"/><stop offset="0.1041" stop-color="#878787"/><stop offset="0.1153" stop-color="#878787"/><stop offset="0.3193" stop-color="#878787"/><stop offset="0.3755" stop-color="#767676"/><stop offset="0.4037" stop-color="#7a7a7a"/><stop offset="0.5162" stop-color="#9c9c9c"/><stop offset="0.5584" stop-color="#969696"/><stop offset="0.6428" stop-color="#b4b4b4"/><stop offset="0.7271" stop-color="#c6c6c6"/><stop offset="0.8115" stop-color="#b2b2b2"/><stop offset="0.8678" stop-color="#9b9b9b"/><stop offset="0.9241" stop-color="#929292"/><stop offset="1.0000" stop-color="#929292"/></linearGradient>
<rect x="595.10" y="27.3" width="16" height="71.10" fill="url(#g1_7)"/>
<path d="M595.70,51.80 Q597.20,53.30 603.10,53.30 T610.50,51.80" fill="none" stroke="#4b4b4b" stroke-width="2.2"/>
<path d="M595.70,68.30 Q597.20,69.80 603.10,69.80 T610.50,68.30" fill="none" stroke="#787878" stroke-width="2"/>
<linearGradient id="g1_8" x1="0" y1="27.3" x2="0" y2="98.4" gradientUnits="userSpaceOnUse"><stop offset="0.0000" stop-color="#878787"/><stop offset="0.1041" stop-color="#878787"/><stop offset="0.1153" stop-color="#878787"/><stop offset="0.3193" stop-color="#878787"/><stop offset="0.3755" stop-color="#767676"/><stop offset="0.4037" stop-color="#7a7a7a"/><stop offset="0.5162" stop-color="#9c9c9c"/><stop offset="0.5584" stop-color="#969696"/><stop offset="0.6428" stop-color="#b4b4b4"/><stop offset="0.7271" stop-color="#c6c6c6"/><stop offset="0.8115" stop-color="#b2b2b2"/><stop offset="0.8678" stop-color="#9b9b9b"/><stop offset="0.9241" stop-color="#929292"/><stop offset="1.0000" stop-color="#929292"/></linearGradient>
<rect x="616.60" y="27.3" width="16" height="71.10" fill="url(#g1_8)"/>
<path d="M617.20,51.80 Q618.70,53.30 624.60,53.30 T632.00,51.80" fill="none" stroke="#4b4b4b" stroke-width="2.2"/>
<path d="M617.20,68.30 Q618.70,69.80 624.60,69.80 T632.00,68.30" fill="none" stroke="#787878" stroke-width="2"/>
<ellipse cx="454.5" cy="80" rx="10" ry="5" fill="#dedede" filter="url(#bl3)"/>
<ellipse cx="476" cy="80" rx="10" ry="5" fill="#dedede" filter="url(#bl3)"/>
<path d="M423.60,59.80 Q432.45,59.80 441.30,58.40" fill="none" stroke="#0a0a0a" stroke-width="3"/>
<path d="M423.60,92.50 Q432.45,92.50 441.30,91.10" fill="none" stroke="#0a0a0a" stroke-width="3"/>
<rect x="422.9" y="28.1" width="18.00" height="9.90" fill="#0a0a0a"/>
<rect x="424" y="38" width="16.90" height="6.80" fill="#0a0a0a"/>
<rect x="434" y="44" width="2.50" height="6.00" fill="#0a0a0a"/>
<rect x="428" y="36.5" width="6.50" height="4.00" fill="#6e6e6e"/>
<rect x="426" y="31.5" width="5.00" height="1.50" fill="#5a5a5a"/>
</g></g>
<rect x="420.9" y="27.7" width="217.20" height="70.30" fill="none" stroke="#555" stroke-width="0.8" opacity="0.6"/>
<text x="408.12" y="9.20" font-size="13" textLength="4.31" lengthAdjust="spacingAndGlyphs">(</text>
<text x="420.42" y="9.20" font-size="13" textLength="4.23" lengthAdjust="spacingAndGlyphs">)</text>
<rect x="413.00" y="3.70" width="5.80" height="4.90" fill="#000"/>
<text x="493.55" y="9.90" font-size="12.8" textLength="57.79" lengthAdjust="spacingAndGlyphs">Time (min)</text>
<text x="426.80" y="25.00" font-size="12.8" textLength="11.38" lengthAdjust="spacingAndGlyphs">M</text>
<text x="450.80" y="25.00" font-size="12.8" textLength="6.40" lengthAdjust="spacingAndGlyphs">0</text>
<text x="473.64" y="25.00" font-size="12.8" textLength="6.40" lengthAdjust="spacingAndGlyphs">1</text>
<text x="493.86" y="25.00" font-size="12.8" textLength="6.40" lengthAdjust="spacingAndGlyphs">2</text>
<text x="515.97" y="25.00" font-size="12.8" textLength="6.40" lengthAdjust="spacingAndGlyphs">3</text>
<text x="535.97" y="25.00" font-size="12.8" textLength="6.40" lengthAdjust="spacingAndGlyphs">5</text>
<text x="551.81" y="25.00" font-size="12.8" textLength="12.80" lengthAdjust="spacingAndGlyphs">10</text>
<text x="574.71" y="25.00" font-size="12.8" textLength="12.80" lengthAdjust="spacingAndGlyphs">15</text>
<text x="594.27" y="25.00" font-size="12.8" textLength="12.80" lengthAdjust="spacingAndGlyphs">30</text>
<text x="617.20" y="25.00" font-size="12.8" textLength="12.80" lengthAdjust="spacingAndGlyphs">60</text>
<text x="403.60" y="25.00" font-size="12.8" textLength="13.02" lengthAdjust="spacingAndGlyphs">bp</text>
<line x1="403.20" y1="28.20" x2="416.30" y2="28.20" stroke="#000" stroke-width="0.9"/>
<text x="398.51" y="40.80" font-size="12.8" textLength="19.20" lengthAdjust="spacingAndGlyphs">200</text>
<text x="398.51" y="51.10" font-size="12.8" textLength="19.20" lengthAdjust="spacingAndGlyphs">150</text>
<text x="398.51" y="63.40" font-size="12.8" textLength="19.20" lengthAdjust="spacingAndGlyphs">100</text>
<text x="404.91" y="95.20" font-size="12.8" textLength="12.80" lengthAdjust="spacingAndGlyphs">50</text>
<line x1="644.4" y1="35.5" x2="662.8" y2="35.5" stroke="#000" stroke-width="1"/>
<polygon points="641.4,35.5 646.1999999999999,33.9 646.1999999999999,37.1" fill="#000"/>
<text x="667.42" y="39.20" font-size="14.3" font-weight="bold" textLength="7.86" lengthAdjust="spacingAndGlyphs">S</text>
<line x1="644.4" y1="50.7" x2="662.8" y2="50.7" stroke="#000" stroke-width="1"/>
<polygon points="641.4,50.7 646.1999999999999,49.1 646.1999999999999,52.300000000000004" fill="#000"/>
<text x="667.31" y="54.40" font-size="14.3" font-weight="bold" textLength="13.71" lengthAdjust="spacingAndGlyphs">P1</text>
<line x1="644.4" y1="67.3" x2="662.8" y2="67.3" stroke="#000" stroke-width="1"/>
<polygon points="641.4,67.3 646.1999999999999,65.7 646.1999999999999,68.89999999999999" fill="#000"/>
<text x="667.30" y="71.00" font-size="14.3" font-weight="bold" textLength="14.74" lengthAdjust="spacingAndGlyphs">P2</text>
<clipPath id="c2"><rect x="420.1" y="149.5" width="218.40" height="71.20"/></clipPath>
<g clip-path="url(#c2)"><g filter="url(#bl)">
<rect x="418.1" y="147.5" width="222.40" height="75.20" fill="#a4a4a4"/>
<linearGradient id="gp2" x1="0" y1="149.5" x2="0" y2="220.7" gradientUnits="userSpaceOnUse"><stop offset="0.0000" stop-color="#6c6c6c"/><stop offset="0.3722" stop-color="#868686"/><stop offset="0.7093" stop-color="#989898"/><stop offset="1.0000" stop-color="#a4a4a4"/></linearGradient>
<rect x="444.6" y="149.5" width="193.90" height="71.20" fill="url(#gp2)"/>
<rect x="418.1" y="147.5" width="26.50" height="75.20" fill="#8c8c8c"/>
<linearGradient id="g2_0" x1="0" y1="149.5" x2="0" y2="220.7" gradientUnits="userSpaceOnUse"><stop offset="0.0000" stop-color="#747474"/><stop offset="0.1362" stop-color="#747474"/><stop offset="0.1475" stop-color="#0a0a0a"/><stop offset="0.1826" stop-color="#0a0a0a"/><stop offset="0.2177" stop-color="#2a2a2a"/><stop offset="0.3160" stop-color="#505050"/><stop offset="0.4284" stop-color="#6a6a6a"/><stop offset="0.5688" stop-color="#7e7e7e"/><stop offset="0.7093" stop-color="#929292"/><stop offset="0.8497" stop-color="#a0a0a0"/><stop offset="1.0000" stop-color="#a6a6a6"/></linearGradient>
<rect x="450.00" y="149.5" width="16" height="71.20" fill="url(#g2_0)"/>
<linearGradient id="g2_1" x1="0" y1="149.5" x2="0" y2="220.7" gradientUnits="userSpaceOnUse"><stop offset="0.0000" stop-color="#747474"/><stop offset="0.1362" stop-color="#747474"/><stop offset="0.1475" stop-color="#0c0c0c"/><stop offset="0.1826" stop-color="#0f0f0f"/><stop offset="0.2177" stop-color="#323232"/><stop offset="0.3160" stop-color="#585858"/><stop offset="0.4284" stop-color="#6e6e6e"/><stop offset="0.5688" stop-color="#808080"/><stop offset="0.7093" stop-color="#929292"/><stop offset="0.8497" stop-color="#a0a0a0"/><stop offset="1.0000" stop-color="#a6a6a6"/></linearGradient>
<rect x="470.30" y="149.5" width="16" height="71.20" fill="url(#g2_1)"/>
<linearGradient id="g2_2" x1="0" y1="149.5" x2="0" y2="220.7" gradientUnits="userSpaceOnUse"><stop offset="0.0000" stop-color="#747474"/><stop offset="0.1362" stop-color="#747474"/><stop offset="0.1475" stop-color="#0f0f0f"/><stop offset="0.1826" stop-color="#141414"/><stop offset="0.2177" stop-color="#3a3a3a"/><stop offset="0.3160" stop-color="#5f5f5f"/><stop offset="0.4284" stop-color="#737373"/><stop offset="0.5688" stop-color="#828282"/><stop offset="0.7093" stop-color="#929292"/><stop offset="0.8497" stop-color="#a0a0a0"/><stop offset="1.0000" stop-color="#a6a6a6"/></linearGradient>
<rect x="490.60" y="149.5" width="16" height="71.20" fill="url(#g2_2)"/>
<linearGradient id="g2_3" x1="0" y1="149.5" x2="0" y2="220.7" gradientUnits="userSpaceOnUse"><stop offset="0.0000" stop-color="#747474"/><stop offset="0.1362" stop-color="#747474"/><stop offset="0.1475" stop-color="#0f0f0f"/><stop offset="0.1826" stop-color="#191919"/><stop offset="0.2177" stop-color="#464646"/><stop offset="0.3160" stop-color="#696969"/><stop offset="0.4284" stop-color="#787878"/><stop offset="0.5688" stop-color="#848484"/><stop offset="0.7093" stop-color="#929292"/><stop offset="0.8497" stop-color="#a0a0a0"/><stop offset="1.0000" stop-color="#a6a6a6"/></linearGradient>
<rect x="511.60" y="149.5" width="16" height="71.20" fill="url(#g2_3)"/>
<path d="M512.20,179.30 Q513.70,180.80 519.60,180.80 T527.00,179.30" fill="none" stroke="#5f5f5f" stroke-width="2"/>
<path d="M512.20,195.30 Q513.70,196.80 519.60,196.80 T527.00,195.30" fill="none" stroke="#6e6e6e" stroke-width="2"/>
<linearGradient id="g2_4" x1="0" y1="149.5" x2="0" y2="220.7" gradientUnits="userSpaceOnUse"><stop offset="0.0000" stop-color="#747474"/><stop offset="0.1362" stop-color="#747474"/><stop offset="0.1475" stop-color="#2a2a2a"/><stop offset="0.1896" stop-color="#464646"/><stop offset="0.2177" stop-color="#606060"/><stop offset="0.3160" stop-color="#6e6e6e"/><stop offset="0.4003" stop-color="#767676"/><stop offset="0.5126" stop-color="#7a7a7a"/><stop offset="0.6250" stop-color="#7d7d7d"/><stop offset="0.7093" stop-color="#929292"/><stop offset="0.8497" stop-color="#a0a0a0"/><stop offset="1.0000" stop-color="#a6a6a6"/></linearGradient>
<rect x="531.80" y="149.5" width="16" height="71.20" fill="url(#g2_4)"/>
<path d="M532.40,159.30 Q533.90,160.80 539.80,160.80 T547.20,159.30" fill="none" stroke="#282828" stroke-width="2.5"/>
<path d="M532.40,179.70 Q533.90,181.20 539.80,181.20 T547.20,179.70" fill="none" stroke="#484848" stroke-width="2.5"/>
<path d="M532.40,196.80 Q533.90,198.30 539.80,198.30 T547.20,196.80" fill="none" stroke="#646464" stroke-width="2.5"/>
<linearGradient id="g2_5" x1="0" y1="149.5" x2="0" y2="220.7" gradientUnits="userSpaceOnUse"><stop offset="0.0000" stop-color="#747474"/><stop offset="0.1362" stop-color="#747474"/><stop offset="0.1475" stop-color="#6e6e6e"/><stop offset="0.3160" stop-color="#767676"/><stop offset="0.4284" stop-color="#7a7a7a"/><stop offset="0.5688" stop-color="#7c7c7c"/><stop offset="0.7093" stop-color="#929292"/><stop offset="0.8497" stop-color="#a0a0a0"/><stop offset="1.0000" stop-color="#a6a6a6"/></linearGradient>
<rect x="552.00" y="149.5" width="16" height="71.20" fill="url(#g2_5)"/>
<path d="M552.60,160.30 Q554.10,161.80 560.00,161.80 T567.40,160.30" fill="none" stroke="#5f5f5f" stroke-width="2"/>
<path d="M552.60,179.60 Q554.10,181.10 560.00,181.10 T567.40,179.60" fill="none" stroke="#323232" stroke-width="3"/>
<path d="M552.60,196.30 Q554.10,197.80 560.00,197.80 T567.40,196.30" fill="none" stroke="#4b4b4b" stroke-width="3"/>
<linearGradient id="g2_6" x1="0" y1="149.5" x2="0" y2="220.7" gradientUnits="userSpaceOnUse"><stop offset="0.0000" stop-color="#747474"/><stop offset="0.1362" stop-color="#747474"/><stop offset="0.1475" stop-color="#747474"/><stop offset="0.3160" stop-color="#7a7a7a"/><stop offset="0.4003" stop-color="#7c7c7c"/><stop offset="0.5407" stop-color="#808080"/><stop offset="0.6250" stop-color="#7e7e7e"/><stop offset="0.7093" stop-color="#929292"/><stop offset="0.8497" stop-color="#a0a0a0"/><stop offset="1.0000" stop-color="#a6a6a6"/></linearGradient>
<rect x="573.00" y="149.5" width="16" height="71.20" fill="url(#g2_6)"/>
<path d="M573.60,180.20 Q575.10,181.70 581.00,181.70 T588.40,180.20" fill="none" stroke="#2a2a2a" stroke-width="3"/>
<path d="M573.60,196.90 Q575.10,198.40 581.00,198.40 T588.40,196.90" fill="none" stroke="#404040" stroke-width="3"/>
<linearGradient id="g2_7" x1="0" y1="149.5" x2="0" y2="220.7" gradientUnits="userSpaceOnUse"><stop offset="0.0000" stop-color="#767676"/><stop offset="0.1362" stop-color="#767676"/><stop offset="0.1475" stop-color="#767676"/><stop offset="0.3160" stop-color="#7a7a7a"/><stop offset="0.4003" stop-color="#7c7c7c"/><stop offset="0.5407" stop-color="#808080"/><stop offset="0.6250" stop-color="#7e7e7e"/><stop offset="0.7093" stop-color="#929292"/><stop offset="0.8497" stop-color="#a0a0a0"/><stop offset="1.0000" stop-color="#a6a6a6"/></linearGradient>
<rect x="594.20" y="149.5" width="16" height="71.20" fill="url(#g2_7)"/>
<path d="M594.80,180.10 Q596.30,181.60 602.20,181.60 T609.60,180.10" fill="none" stroke="#2a2a2a" stroke-width="3"/>
<path d="M594.80,197.00 Q596.30,198.50 602.20,198.50 T609.60,197.00" fill="none" stroke="#3c3c3c" stroke-width="3"/>
<linearGradient id="g2_8" x1="0" y1="149.5" x2="0" y2="220.7" gradientUnits="userSpaceOnUse"><stop offset="0.0000" stop-color="#767676"/><stop offset="0.1362" stop-color="#767676"/><stop offset="0.1475" stop-color="#767676"/><stop offset="0.3160" stop-color="#7a7a7a"/><stop offset="0.4003" stop-color="#7c7c7c"/><stop offset="0.5407" stop-color="#808080"/><stop offset="0.6250" stop-color="#7e7e7e"/><stop offset="0.7093" stop-color="#929292"/><stop offset="0.8497" stop-color="#a0a0a0"/><stop offset="1.0000" stop-color="#a6a6a6"/></linearGradient>
<rect x="615.10" y="149.5" width="16" height="71.20" fill="url(#g2_8)"/>
<path d="M615.70,179.80 Q617.20,181.30 623.10,181.30 T630.50,179.80" fill="none" stroke="#1e1e1e" stroke-width="3.5"/>
<path d="M615.70,197.00 Q617.20,198.50 623.10,198.50 T630.50,197.00" fill="none" stroke="#323232" stroke-width="3.5"/>
<path d="M427.00,153.50 Q435.80,153.50 444.60,152.10" fill="none" stroke="#141414" stroke-width="2.4"/>
<path d="M427.00,161.70 Q435.80,161.70 444.60,160.30" fill="none" stroke="#191919" stroke-width="2.4"/>
<path d="M427.00,170.20 Q435.80,170.20 444.60,168.80" fill="none" stroke="#191919" stroke-width="2.4"/>
<path d="M427.00,182.30 Q435.80,182.30 444.60,180.90" fill="none" stroke="#0f0f0f" stroke-width="2.8"/>
<path d="M427.00,208.70 Q435.80,208.70 444.60,207.30" fill="none" stroke="#505050" stroke-width="1.8"/>
</g></g>
<rect x="420.5" y="149.9" width="217.60" height="70.40" fill="none" stroke="#555" stroke-width="0.8" opacity="0.6"/>
<text x="408.22" y="133.90" font-size="13" textLength="4.31" lengthAdjust="spacingAndGlyphs">(</text>
<text x="420.22" y="133.90" font-size="13" textLength="4.23" lengthAdjust="spacingAndGlyphs">)</text>
<circle cx="416.10" cy="129.70" r="2.9" fill="#000"/>
<text x="493.14" y="131.10" font-size="12.8" textLength="58.09" lengthAdjust="spacingAndGlyphs">Time (min)</text>
<text x="427.30" y="146.60" font-size="12.8" textLength="11.38" lengthAdjust="spacingAndGlyphs">M</text>
<text x="451.70" y="146.60" font-size="12.8" textLength="6.40" lengthAdjust="spacingAndGlyphs">0</text>
<text x="471.24" y="146.60" font-size="12.8" textLength="6.40" lengthAdjust="spacingAndGlyphs">1</text>
<text x="494.56" y="146.60" font-size="12.8" textLength="6.40" lengthAdjust="spacingAndGlyphs">2</text>
<text x="513.57" y="146.60" font-size="12.8" textLength="6.40" lengthAdjust="spacingAndGlyphs">3</text>
<text x="536.77" y="146.60" font-size="12.8" textLength="6.40" lengthAdjust="spacingAndGlyphs">5</text>
<text x="552.61" y="146.60" font-size="12.8" textLength="12.80" lengthAdjust="spacingAndGlyphs">10</text>
<text x="575.41" y="146.60" font-size="12.8" textLength="12.80" lengthAdjust="spacingAndGlyphs">15</text>
<text x="594.97" y="146.60" font-size="12.8" textLength="12.80" lengthAdjust="spacingAndGlyphs">30</text>
<text x="617.20" y="146.60" font-size="12.8" textLength="12.80" lengthAdjust="spacingAndGlyphs">60</text>
<text x="403.80" y="146.60" font-size="12.8" textLength="12.81" lengthAdjust="spacingAndGlyphs">bp</text>
<line x1="403.40" y1="149.60" x2="416.30" y2="149.60" stroke="#000" stroke-width="0.9"/>
<text x="398.51" y="161.40" font-size="12.8" textLength="19.20" lengthAdjust="spacingAndGlyphs">200</text>
<text x="398.51" y="173.00" font-size="12.8" textLength="19.20" lengthAdjust="spacingAndGlyphs">150</text>
<text x="398.51" y="184.80" font-size="12.8" textLength="19.20" lengthAdjust="spacingAndGlyphs">100</text>
<text x="404.91" y="216.10" font-size="12.8" textLength="12.80" lengthAdjust="spacingAndGlyphs">50</text>
<line x1="644.6" y1="159.4" x2="662.1" y2="159.4" stroke="#000" stroke-width="1"/>
<polygon points="641.6,159.4 646.4,157.8 646.4,161.0" fill="#000"/>
<text x="666.82" y="163.10" font-size="14.3" font-weight="bold" textLength="7.86" lengthAdjust="spacingAndGlyphs">S</text>
<line x1="644.6" y1="176.2" x2="662.1" y2="176.2" stroke="#000" stroke-width="1"/>
<polygon points="641.6,176.2 646.4,174.6 646.4,177.79999999999998" fill="#000"/>
<text x="666.71" y="179.90" font-size="14.3" font-weight="bold" textLength="13.71" lengthAdjust="spacingAndGlyphs">P1</text>
<line x1="644.6" y1="192.6" x2="662.1" y2="192.6" stroke="#000" stroke-width="1"/>
<polygon points="641.6,192.6 646.4,191.0 646.4,194.2" fill="#000"/>
<text x="666.70" y="196.30" font-size="14.3" font-weight="bold" textLength="14.74" lengthAdjust="spacingAndGlyphs">P2</text>
<clipPath id="c3"><rect x="421.2" y="271.3" width="218.00" height="71.30"/></clipPath>
<g clip-path="url(#c3)"><g filter="url(#bl)">
<rect x="419.2" y="269.3" width="222.00" height="75.30" fill="#a5a5a5"/>
<linearGradient id="gp3" x1="0" y1="271.3" x2="0" y2="342.6" gradientUnits="userSpaceOnUse"><stop offset="0.0000" stop-color="#949494"/><stop offset="0.4025" stop-color="#989898"/><stop offset="0.6550" stop-color="#a2a2a2"/><stop offset="0.8233" stop-color="#a8a8a8"/><stop offset="1.0000" stop-color="#a5a5a5"/></linearGradient>
<rect x="443" y="271.3" width="196.20" height="71.30" fill="url(#gp3)"/>
<rect x="419.2" y="269.3" width="23.80" height="75.30" fill="#a4a4a4"/>
<linearGradient id="g3_0" x1="0" y1="271.3" x2="0" y2="342.6" gradientUnits="userSpaceOnUse"><stop offset="0.0000" stop-color="#7a7a7a"/><stop offset="0.1388" stop-color="#7a7a7a"/><stop offset="0.1501" stop-color="#080808"/><stop offset="0.2482" stop-color="#080808"/><stop offset="0.2903" stop-color="#202020"/><stop offset="0.3464" stop-color="#404040"/><stop offset="0.4306" stop-color="#585858"/><stop offset="0.5428" stop-color="#707070"/><stop offset="0.6830" stop-color="#888888"/><stop offset="0.7952" stop-color="#a6a6a6"/><stop offset="0.8934" stop-color="#a8a8a8"/><stop offset="1.0000" stop-color="#a0a0a0"/></linearGradient>
<rect x="448.25" y="271.3" width="17.5" height="71.30" fill="url(#g3_0)"/>
<linearGradient id="e3_0" x1="0" y1="284" x2="0" y2="304" gradientUnits="userSpaceOnUse"><stop offset="0" stop-color="#0a0a0a" stop-opacity="1"/><stop offset="0.5" stop-color="#0a0a0a" stop-opacity="0.6"/><stop offset="1" stop-color="#0a0a0a" stop-opacity="0"/></linearGradient>
<rect x="448.25" y="284" width="3.5" height="20.00" fill="url(#e3_0)"/>
<rect x="462.25" y="284" width="3.5" height="20.00" fill="url(#e3_0)"/>
<linearGradient id="g3_1" x1="0" y1="271.3" x2="0" y2="342.6" gradientUnits="userSpaceOnUse"><stop offset="0.0000" stop-color="#7a7a7a"/><stop offset="0.1388" stop-color="#7a7a7a"/><stop offset="0.1501" stop-color="#080808"/><stop offset="0.2482" stop-color="#080808"/><stop offset="0.2903" stop-color="#202020"/><stop offset="0.3464" stop-color="#404040"/><stop offset="0.4306" stop-color="#585858"/><stop offset="0.5428" stop-color="#707070"/><stop offset="0.6830" stop-color="#888888"/><stop offset="0.7952" stop-color="#a6a6a6"/><stop offset="0.8934" stop-color="#a8a8a8"/><stop offset="1.0000" stop-color="#a0a0a0"/></linearGradient>
<rect x="469.55" y="271.3" width="17.5" height="71.30" fill="url(#g3_1)"/>
<linearGradient id="e3_1" x1="0" y1="284" x2="0" y2="304" gradientUnits="userSpaceOnUse"><stop offset="0" stop-color="#0a0a0a" stop-opacity="1"/><stop offset="0.5" stop-color="#0a0a0a" stop-opacity="0.6"/><stop offset="1" stop-color="#0a0a0a" stop-opacity="0"/></linearGradient>
<rect x="469.55" y="284" width="3.5" height="20.00" fill="url(#e3_1)"/>
<rect x="483.55" y="284" width="3.5" height="20.00" fill="url(#e3_1)"/>
<linearGradient id="g3_2" x1="0" y1="271.3" x2="0" y2="342.6" gradientUnits="userSpaceOnUse"><stop offset="0.0000" stop-color="#7a7a7a"/><stop offset="0.1388" stop-color="#7a7a7a"/><stop offset="0.1501" stop-color="#080808"/><stop offset="0.2482" stop-color="#080808"/><stop offset="0.2903" stop-color="#202020"/><stop offset="0.3464" stop-color="#404040"/><stop offset="0.4306" stop-color="#585858"/><stop offset="0.5428" stop-color="#707070"/><stop offset="0.6830" stop-color="#888888"/><stop offset="0.7952" stop-color="#a6a6a6"/><stop offset="0.8934" stop-color="#a8a8a8"/><stop offset="1.0000" stop-color="#a0a0a0"/></linearGradient>
<rect x="490.75" y="271.3" width="17.5" height="71.30" fill="url(#g3_2)"/>
<linearGradient id="e3_2" x1="0" y1="284" x2="0" y2="304" gradientUnits="userSpaceOnUse"><stop offset="0" stop-color="#0a0a0a" stop-opacity="1"/><stop offset="0.5" stop-color="#0a0a0a" stop-opacity="0.6"/><stop offset="1" stop-color="#0a0a0a" stop-opacity="0"/></linearGradient>
<rect x="490.75" y="284" width="3.5" height="20.00" fill="url(#e3_2)"/>
<rect x="504.75" y="284" width="3.5" height="20.00" fill="url(#e3_2)"/>
<linearGradient id="g3_3" x1="0" y1="271.3" x2="0" y2="342.6" gradientUnits="userSpaceOnUse"><stop offset="0.0000" stop-color="#7a7a7a"/><stop offset="0.1388" stop-color="#7a7a7a"/><stop offset="0.1501" stop-color="#080808"/><stop offset="0.2482" stop-color="#080808"/><stop offset="0.2903" stop-color="#202020"/><stop offset="0.3464" stop-color="#404040"/><stop offset="0.4306" stop-color="#585858"/><stop offset="0.5428" stop-color="#707070"/><stop offset="0.6830" stop-color="#888888"/><stop offset="0.7952" stop-color="#a6a6a6"/><stop offset="0.8934" stop-color="#a8a8a8"/><stop offset="1.0000" stop-color="#a0a0a0"/></linearGradient>
<rect x="511.95" y="271.3" width="17.5" height="71.30" fill="url(#g3_3)"/>
<linearGradient id="e3_3" x1="0" y1="284" x2="0" y2="304" gradientUnits="userSpaceOnUse"><stop offset="0" stop-color="#0a0a0a" stop-opacity="1"/><stop offset="0.5" stop-color="#0a0a0a" stop-opacity="0.6"/><stop offset="1" stop-color="#0a0a0a" stop-opacity="0"/></linearGradient>
<rect x="511.95" y="284" width="3.5" height="20.00" fill="url(#e3_3)"/>
<rect x="525.95" y="284" width="3.5" height="20.00" fill="url(#e3_3)"/>
<linearGradient id="g3_4" x1="0" y1="271.3" x2="0" y2="342.6" gradientUnits="userSpaceOnUse"><stop offset="0.0000" stop-color="#7a7a7a"/><stop offset="0.1388" stop-color="#7a7a7a"/><stop offset="0.1501" stop-color="#0c0c0c"/><stop offset="0.2342" stop-color="#0f0f0f"/><stop offset="0.2903" stop-color="#2d2d2d"/><stop offset="0.3464" stop-color="#4b4b4b"/><stop offset="0.4306" stop-color="#626262"/><stop offset="0.5428" stop-color="#787878"/><stop offset="0.6830" stop-color="#8c8c8c"/><stop offset="0.7952" stop-color="#a6a6a6"/><stop offset="0.8934" stop-color="#a8a8a8"/><stop offset="1.0000" stop-color="#a0a0a0"/></linearGradient>
<rect x="532.45" y="271.3" width="17.5" height="71.30" fill="url(#g3_4)"/>
<linearGradient id="e3_4" x1="0" y1="284" x2="0" y2="304" gradientUnits="userSpaceOnUse"><stop offset="0" stop-color="#0a0a0a" stop-opacity="1"/><stop offset="0.5" stop-color="#0a0a0a" stop-opacity="0.6"/><stop offset="1" stop-color="#0a0a0a" stop-opacity="0"/></linearGradient>
<rect x="532.45" y="284" width="3.5" height="20.00" fill="url(#e3_4)"/>
<rect x="546.45" y="284" width="3.5" height="20.00" fill="url(#e3_4)"/>
<linearGradient id="g3_5" x1="0" y1="271.3" x2="0" y2="342.6" gradientUnits="userSpaceOnUse"><stop offset="0.0000" stop-color="#7c7c7c"/><stop offset="0.1388" stop-color="#7c7c7c"/><stop offset="0.1501" stop-color="#0f0f0f"/><stop offset="0.2062" stop-color="#232323"/><stop offset="0.2623" stop-color="#5f5f5f"/><stop offset="0.3464" stop-color="#747474"/><stop offset="0.4306" stop-color="#767676"/><stop offset="0.4867" stop-color="#707070"/><stop offset="0.6129" stop-color="#7d7d7d"/><stop offset="0.7391" stop-color="#969696"/><stop offset="0.8233" stop-color="#a8a8a8"/><stop offset="0.9074" stop-color="#a8a8a8"/><stop offset="1.0000" stop-color="#a2a2a2"/></linearGradient>
<rect x="553.85" y="271.3" width="17.5" height="71.30" fill="url(#g3_5)"/>
<linearGradient id="e3_5" x1="0" y1="284" x2="0" y2="300" gradientUnits="userSpaceOnUse"><stop offset="0" stop-color="#141414" stop-opacity="1"/><stop offset="0.5" stop-color="#141414" stop-opacity="0.6"/><stop offset="1" stop-color="#141414" stop-opacity="0"/></linearGradient>
<rect x="553.85" y="284" width="3" height="16.00" fill="url(#e3_5)"/>
<rect x="568.35" y="284" width="3" height="16.00" fill="url(#e3_5)"/>
<path d="M554.45,301.80 Q555.95,303.30 562.60,303.30 T570.75,301.80" fill="none" stroke="#323232" stroke-width="3"/>
<path d="M554.45,317.30 Q555.95,318.80 562.60,318.80 T570.75,317.30" fill="none" stroke="#5a5a5a" stroke-width="2.5"/>
<linearGradient id="g3_6" x1="0" y1="271.3" x2="0" y2="342.6" gradientUnits="userSpaceOnUse"><stop offset="0.0000" stop-color="#7e7e7e"/><stop offset="0.1388" stop-color="#7e7e7e"/><stop offset="0.1501" stop-color="#141414"/><stop offset="0.2062" stop-color="#2d2d2d"/><stop offset="0.2623" stop-color="#646464"/><stop offset="0.3464" stop-color="#787878"/><stop offset="0.4306" stop-color="#787878"/><stop offset="0.4867" stop-color="#737373"/><stop offset="0.6129" stop-color="#7d7d7d"/><stop offset="0.7391" stop-color="#969696"/><stop offset="0.8233" stop-color="#a8a8a8"/><stop offset="0.9074" stop-color="#a8a8a8"/><stop offset="1.0000" stop-color="#a2a2a2"/></linearGradient>
<rect x="574.55" y="271.3" width="17.5" height="71.30" fill="url(#g3_6)"/>
<linearGradient id="e3_6" x1="0" y1="284" x2="0" y2="300" gradientUnits="userSpaceOnUse"><stop offset="0" stop-color="#1e1e1e" stop-opacity="1"/><stop offset="0.5" stop-color="#1e1e1e" stop-opacity="0.6"/><stop offset="1" stop-color="#1e1e1e" stop-opacity="0"/></linearGradient>
<rect x="574.55" y="284" width="3" height="16.00" fill="url(#e3_6)"/>
<rect x="589.05" y="284" width="3" height="16.00" fill="url(#e3_6)"/>
<path d="M575.15,301.50 Q576.65,303.00 583.30,303.00 T591.45,301.50" fill="none" stroke="#323232" stroke-width="3"/>
<path d="M575.15,317.80 Q576.65,319.30 583.30,319.30 T591.45,317.80" fill="none" stroke="#5f5f5f" stroke-width="2.5"/>
<linearGradient id="g3_7" x1="0" y1="271.3" x2="0" y2="342.6" gradientUnits="userSpaceOnUse"><stop offset="0.0000" stop-color="#888888"/><stop offset="0.1388" stop-color="#888888"/><stop offset="0.1641" stop-color="#808080"/><stop offset="0.1921" stop-color="#8a8a8a"/><stop offset="0.3745" stop-color="#8a8a8a"/><stop offset="0.4867" stop-color="#6a6a6a"/><stop offset="0.6550" stop-color="#707070"/><stop offset="0.7391" stop-color="#969696"/><stop offset="0.8233" stop-color="#a8a8a8"/><stop offset="0.9074" stop-color="#a8a8a8"/><stop offset="1.0000" stop-color="#a2a2a2"/></linearGradient>
<rect x="595.95" y="271.3" width="17.5" height="71.30" fill="url(#g3_7)"/>
<path d="M596.55,302.20 Q598.05,303.70 604.70,303.70 T612.85,302.20" fill="none" stroke="#282828" stroke-width="3.5"/>
<path d="M596.55,320.80 Q598.05,322.30 604.70,322.30 T612.85,320.80" fill="none" stroke="#505050" stroke-width="3"/>
<linearGradient id="g3_8" x1="0" y1="271.3" x2="0" y2="342.6" gradientUnits="userSpaceOnUse"><stop offset="0.0000" stop-color="#8c8c8c"/><stop offset="0.1388" stop-color="#8c8c8c"/><stop offset="0.1921" stop-color="#919191"/><stop offset="0.3745" stop-color="#8c8c8c"/><stop offset="0.4867" stop-color="#6e6e6e"/><stop offset="0.6550" stop-color="#737373"/><stop offset="0.7391" stop-color="#969696"/><stop offset="0.8233" stop-color="#a8a8a8"/><stop offset="0.9074" stop-color="#a8a8a8"/><stop offset="1.0000" stop-color="#a2a2a2"/></linearGradient>
<rect x="616.75" y="271.3" width="17.5" height="71.30" fill="url(#g3_8)"/>
<path d="M617.35,300.90 Q618.85,302.40 625.50,302.40 T633.65,300.90" fill="none" stroke="#2d2d2d" stroke-width="3.5"/>
<path d="M617.35,318.80 Q618.85,320.30 625.50,320.30 T633.65,318.80" fill="none" stroke="#555555" stroke-width="3"/>
<path d="M425.00,274.60 Q434.00,274.60 443.00,273.20" fill="none" stroke="#0a0a0a" stroke-width="2.8"/>
<path d="M425.00,282.40 Q434.00,282.40 443.00,281.00" fill="none" stroke="#0a0a0a" stroke-width="2.8"/>
<path d="M425.00,291.70 Q434.00,291.70 443.00,290.30" fill="none" stroke="#0a0a0a" stroke-width="2.8"/>
<path d="M425.00,303.50 Q434.00,303.50 443.00,302.10" fill="none" stroke="#050505" stroke-width="3.2"/>
<path d="M425.00,328.50 Q434.00,328.50 443.00,327.10" fill="none" stroke="#606060" stroke-width="2.2"/>
</g></g>
<rect x="421.59999999999997" y="271.7" width="217.20" height="70.50" fill="none" stroke="#555" stroke-width="0.8" opacity="0.6"/>
<text x="409.02" y="252.80" font-size="13" textLength="4.31" lengthAdjust="spacingAndGlyphs">(</text>
<text x="426.72" y="252.80" font-size="13" textLength="4.23" lengthAdjust="spacingAndGlyphs">)</text>
<polygon points="415.80,252.60 424.20,252.60 420.00,244.70" fill="#000"/>
<text x="496.14" y="253.80" font-size="12.8" textLength="58.39" lengthAdjust="spacingAndGlyphs">Time (min)</text>
<text x="427.90" y="268.90" font-size="12.8" textLength="11.38" lengthAdjust="spacingAndGlyphs">M</text>
<text x="452.30" y="268.90" font-size="12.8" textLength="6.40" lengthAdjust="spacingAndGlyphs">0</text>
<text x="475.14" y="268.90" font-size="12.8" textLength="6.40" lengthAdjust="spacingAndGlyphs">1</text>
<text x="495.06" y="268.90" font-size="12.8" textLength="6.40" lengthAdjust="spacingAndGlyphs">2</text>
<text x="517.77" y="268.90" font-size="12.8" textLength="6.40" lengthAdjust="spacingAndGlyphs">3</text>
<text x="537.17" y="268.90" font-size="12.8" textLength="6.40" lengthAdjust="spacingAndGlyphs">5</text>
<text x="553.31" y="268.90" font-size="12.8" textLength="12.80" lengthAdjust="spacingAndGlyphs">10</text>
<text x="573.51" y="268.90" font-size="12.8" textLength="12.80" lengthAdjust="spacingAndGlyphs">15</text>
<text x="595.47" y="268.90" font-size="12.8" textLength="12.80" lengthAdjust="spacingAndGlyphs">30</text>
<text x="618.40" y="268.90" font-size="12.8" textLength="12.80" lengthAdjust="spacingAndGlyphs">60</text>
<text x="404.80" y="268.90" font-size="12.8" textLength="13.02" lengthAdjust="spacingAndGlyphs">bp</text>
<line x1="404.40" y1="272.40" x2="417.50" y2="272.40" stroke="#000" stroke-width="0.9"/>
<text x="398.51" y="284.20" font-size="12.8" textLength="19.20" lengthAdjust="spacingAndGlyphs">200</text>
<text x="398.51" y="295.20" font-size="12.8" textLength="19.20" lengthAdjust="spacingAndGlyphs">150</text>
<text x="398.51" y="308.30" font-size="12.8" textLength="19.20" lengthAdjust="spacingAndGlyphs">100</text>
<text x="404.91" y="333.90" font-size="12.8" textLength="12.80" lengthAdjust="spacingAndGlyphs">50</text>
<line x1="644.5" y1="282.3" x2="662" y2="282.3" stroke="#000" stroke-width="1"/>
<polygon points="641.5,282.3 646.3,280.7 646.3,283.90000000000003" fill="#000"/>
<text x="666.92" y="286.00" font-size="14.3" font-weight="bold" textLength="7.86" lengthAdjust="spacingAndGlyphs">S</text>
<line x1="644.5" y1="303" x2="662" y2="303" stroke="#000" stroke-width="1"/>
<polygon points="641.5,303 646.3,301.4 646.3,304.6" fill="#000"/>
<text x="666.81" y="306.70" font-size="14.3" font-weight="bold" textLength="13.71" lengthAdjust="spacingAndGlyphs">P1</text>
<line x1="644.5" y1="320.8" x2="662" y2="320.8" stroke="#000" stroke-width="1"/>
<polygon points="641.5,320.8 646.3,319.2 646.3,322.40000000000003" fill="#000"/>
<text x="666.80" y="324.50" font-size="14.3" font-weight="bold" textLength="14.74" lengthAdjust="spacingAndGlyphs">P2</text>
<clipPath id="c4"><rect x="422.7" y="408.8" width="218.20" height="70.90"/></clipPath>
<g clip-path="url(#c4)"><g filter="url(#bl)">
<rect x="420.7" y="406.8" width="222.20" height="74.90" fill="#828282"/>
<linearGradient id="gp4" x1="0" y1="408.8" x2="0" y2="479.7" gradientUnits="userSpaceOnUse"><stop offset="0.0000" stop-color="#5a5a5a"/><stop offset="0.4401" stop-color="#707070"/><stop offset="1.0000" stop-color="#828282"/></linearGradient>
<rect x="444" y="408.8" width="196.90" height="70.90" fill="url(#gp4)"/>
<rect x="420.7" y="406.8" width="23.30" height="74.90" fill="#747474"/>
<linearGradient id="g4_0" x1="0" y1="408.8" x2="0" y2="479.7" gradientUnits="userSpaceOnUse"><stop offset="0.0000" stop-color="#4a4a4a"/><stop offset="0.1693" stop-color="#4a4a4a"/><stop offset="0.1805" stop-color="#0f0f0f"/><stop offset="0.2003" stop-color="#0f0f0f"/><stop offset="0.2708" stop-color="#404040"/><stop offset="0.3413" stop-color="#525252"/><stop offset="0.4118" stop-color="#646464"/><stop offset="0.5106" stop-color="#707070"/><stop offset="0.6516" stop-color="#787878"/><stop offset="0.7927" stop-color="#808080"/><stop offset="0.9337" stop-color="#888888"/><stop offset="1.0000" stop-color="#888888"/></linearGradient>
<rect x="448.00" y="408.8" width="17" height="70.90" fill="url(#g4_0)"/>
<linearGradient id="g4_1" x1="0" y1="408.8" x2="0" y2="479.7" gradientUnits="userSpaceOnUse"><stop offset="0.0000" stop-color="#4a4a4a"/><stop offset="0.1693" stop-color="#4a4a4a"/><stop offset="0.1805" stop-color="#0f0f0f"/><stop offset="0.2003" stop-color="#0f0f0f"/><stop offset="0.2708" stop-color="#404040"/><stop offset="0.3413" stop-color="#525252"/><stop offset="0.4118" stop-color="#646464"/><stop offset="0.5106" stop-color="#707070"/><stop offset="0.6516" stop-color="#787878"/><stop offset="0.7927" stop-color="#808080"/><stop offset="0.9337" stop-color="#888888"/><stop offset="1.0000" stop-color="#888888"/></linearGradient>
<rect x="470.20" y="408.8" width="17" height="70.90" fill="url(#g4_1)"/>
<linearGradient id="g4_2" x1="0" y1="408.8" x2="0" y2="479.7" gradientUnits="userSpaceOnUse"><stop offset="0.0000" stop-color="#4a4a4a"/><stop offset="0.1693" stop-color="#4a4a4a"/><stop offset="0.1805" stop-color="#0f0f0f"/><stop offset="0.2003" stop-color="#0f0f0f"/><stop offset="0.2708" stop-color="#404040"/><stop offset="0.3413" stop-color="#525252"/><stop offset="0.4118" stop-color="#646464"/><stop offset="0.5106" stop-color="#707070"/><stop offset="0.6516" stop-color="#787878"/><stop offset="0.7927" stop-color="#808080"/><stop offset="0.9337" stop-color="#888888"/><stop offset="1.0000" stop-color="#888888"/></linearGradient>
<rect x="491.70" y="408.8" width="17" height="70.90" fill="url(#g4_2)"/>
<linearGradient id="g4_3" x1="0" y1="408.8" x2="0" y2="479.7" gradientUnits="userSpaceOnUse"><stop offset="0.0000" stop-color="#4c4c4c"/><stop offset="0.1693" stop-color="#4c4c4c"/><stop offset="0.1805" stop-color="#141414"/><stop offset="0.2708" stop-color="#464646"/><stop offset="0.3413" stop-color="#585858"/><stop offset="0.4118" stop-color="#666666"/><stop offset="0.5106" stop-color="#6e6e6e"/><stop offset="0.6516" stop-color="#767676"/><stop offset="0.7927" stop-color="#808080"/><stop offset="0.9337" stop-color="#888888"/><stop offset="1.0000" stop-color="#888888"/></linearGradient>
<rect x="512.00" y="408.8" width="17" height="70.90" fill="url(#g4_3)"/>
<path d="M512.60,441.30 Q514.10,442.80 520.50,442.80 T528.40,441.30" fill="none" stroke="#505050" stroke-width="2"/>
<path d="M512.60,459.30 Q514.10,460.80 520.50,460.80 T528.40,459.30" fill="none" stroke="#646464" stroke-width="2"/>
<linearGradient id="g4_4" x1="0" y1="408.8" x2="0" y2="479.7" gradientUnits="userSpaceOnUse"><stop offset="0.0000" stop-color="#525252"/><stop offset="0.1693" stop-color="#525252"/><stop offset="0.1805" stop-color="#3c3c3c"/><stop offset="0.2285" stop-color="#5a5a5a"/><stop offset="0.3413" stop-color="#646464"/><stop offset="0.4118" stop-color="#6a6a6a"/><stop offset="0.5106" stop-color="#6c6c6c"/><stop offset="0.6516" stop-color="#747474"/><stop offset="0.7927" stop-color="#808080"/><stop offset="0.9337" stop-color="#888888"/><stop offset="1.0000" stop-color="#888888"/></linearGradient>
<rect x="533.00" y="408.8" width="17" height="70.90" fill="url(#g4_4)"/>
<path d="M533.60,420.80 Q535.10,422.30 541.50,422.30 T549.40,420.80" fill="none" stroke="#2d2d2d" stroke-width="2.5"/>
<path d="M533.60,441.10 Q535.10,442.60 541.50,442.60 T549.40,441.10" fill="none" stroke="#484848" stroke-width="2.5"/>
<path d="M533.60,459.30 Q535.10,460.80 541.50,460.80 T549.40,459.30" fill="none" stroke="#5c5c5c" stroke-width="2.5"/>
<linearGradient id="g4_5" x1="0" y1="408.8" x2="0" y2="479.7" gradientUnits="userSpaceOnUse"><stop offset="0.0000" stop-color="#565656"/><stop offset="0.1693" stop-color="#565656"/><stop offset="0.1805" stop-color="#505050"/><stop offset="0.2285" stop-color="#606060"/><stop offset="0.4118" stop-color="#686868"/><stop offset="0.5106" stop-color="#6a6a6a"/><stop offset="0.6516" stop-color="#747474"/><stop offset="0.7927" stop-color="#808080"/><stop offset="0.9337" stop-color="#888888"/><stop offset="1.0000" stop-color="#888888"/></linearGradient>
<rect x="554.70" y="408.8" width="17" height="70.90" fill="url(#g4_5)"/>
<path d="M555.30,420.80 Q556.80,422.30 563.20,422.30 T571.10,420.80" fill="none" stroke="#414141" stroke-width="2"/>
<path d="M555.30,441.00 Q556.80,442.50 563.20,442.50 T571.10,441.00" fill="none" stroke="#484848" stroke-width="2.5"/>
<path d="M555.30,459.60 Q556.80,461.10 563.20,461.10 T571.10,459.60" fill="none" stroke="#5c5c5c" stroke-width="2.5"/>
<linearGradient id="g4_6" x1="0" y1="408.8" x2="0" y2="479.7" gradientUnits="userSpaceOnUse"><stop offset="0.0000" stop-color="#5a5a5a"/><stop offset="0.1693" stop-color="#5a5a5a"/><stop offset="0.1805" stop-color="#5a5a5a"/><stop offset="0.2285" stop-color="#626262"/><stop offset="0.4118" stop-color="#686868"/><stop offset="0.5106" stop-color="#6a6a6a"/><stop offset="0.6516" stop-color="#747474"/><stop offset="0.7927" stop-color="#808080"/><stop offset="0.9337" stop-color="#888888"/><stop offset="1.0000" stop-color="#888888"/></linearGradient>
<rect x="575.50" y="408.8" width="17" height="70.90" fill="url(#g4_6)"/>
<path d="M576.10,420.80 Q577.60,422.30 584.00,422.30 T591.90,420.80" fill="none" stroke="#505050" stroke-width="2"/>
<path d="M576.10,441.00 Q577.60,442.50 584.00,442.50 T591.90,441.00" fill="none" stroke="#4b4b4b" stroke-width="2.5"/>
<path d="M576.10,459.80 Q577.60,461.30 584.00,461.30 T591.90,459.80" fill="none" stroke="#5f5f5f" stroke-width="2.5"/>
<linearGradient id="g4_7" x1="0" y1="408.8" x2="0" y2="479.7" gradientUnits="userSpaceOnUse"><stop offset="0.0000" stop-color="#606060"/><stop offset="0.1693" stop-color="#606060"/><stop offset="0.2144" stop-color="#646464"/><stop offset="0.3836" stop-color="#646464"/><stop offset="0.5247" stop-color="#606060"/><stop offset="0.6657" stop-color="#767676"/><stop offset="0.7927" stop-color="#808080"/><stop offset="0.9337" stop-color="#888888"/><stop offset="1.0000" stop-color="#888888"/></linearGradient>
<rect x="597.20" y="408.8" width="17" height="70.90" fill="url(#g4_7)"/>
<path d="M597.80,440.80 Q599.30,442.30 605.70,442.30 T613.60,440.80" fill="none" stroke="#4a4a4a" stroke-width="2.5"/>
<path d="M597.80,459.80 Q599.30,461.30 605.70,461.30 T613.60,459.80" fill="none" stroke="#646464" stroke-width="2.5"/>
<linearGradient id="g4_8" x1="0" y1="408.8" x2="0" y2="479.7" gradientUnits="userSpaceOnUse"><stop offset="0.0000" stop-color="#606060"/><stop offset="0.1693" stop-color="#606060"/><stop offset="0.2144" stop-color="#646464"/><stop offset="0.3836" stop-color="#646464"/><stop offset="0.5247" stop-color="#626262"/><stop offset="0.6657" stop-color="#767676"/><stop offset="0.7927" stop-color="#808080"/><stop offset="0.9337" stop-color="#888888"/><stop offset="1.0000" stop-color="#888888"/></linearGradient>
<rect x="618.80" y="408.8" width="17" height="70.90" fill="url(#g4_8)"/>
<path d="M619.40,440.80 Q620.90,442.30 627.30,442.30 T635.20,440.80" fill="none" stroke="#505050" stroke-width="2.5"/>
<path d="M619.40,459.80 Q620.90,461.30 627.30,461.30 T635.20,459.80" fill="none" stroke="#686868" stroke-width="2.5"/>
<path d="M427.00,411.30 Q435.50,411.30 444.00,409.90" fill="none" stroke="#0f0f0f" stroke-width="2.4"/>
<path d="M427.00,414.40 Q435.50,414.40 444.00,413.00" fill="none" stroke="#141414" stroke-width="2.2"/>
<path d="M427.00,420.00 Q435.50,420.00 444.00,418.60" fill="none" stroke="#0f0f0f" stroke-width="2.4"/>
<path d="M427.00,430.00 Q435.50,430.00 444.00,428.60" fill="none" stroke="#0f0f0f" stroke-width="2.4"/>
<path d="M427.00,447.70 Q435.50,447.70 444.00,446.30" fill="none" stroke="#0a0a0a" stroke-width="2.6"/>
</g></g>
<rect x="423.09999999999997" y="409.2" width="217.40" height="70.10" fill="none" stroke="#555" stroke-width="0.8" opacity="0.6"/>
<text x="410.82" y="391.20" font-size="13" textLength="4.31" lengthAdjust="spacingAndGlyphs">(</text>
<text x="423.22" y="391.20" font-size="13" textLength="4.23" lengthAdjust="spacingAndGlyphs">)</text>
<rect x="416.10" y="385.60" width="6.10" height="5.30" fill="#000"/>
<text x="502.54" y="391.90" font-size="12.8" textLength="58.09" lengthAdjust="spacingAndGlyphs">Time (min)</text>
<text x="427.90" y="406.80" font-size="12.8" textLength="11.38" lengthAdjust="spacingAndGlyphs">M</text>
<text x="452.30" y="406.80" font-size="12.8" textLength="6.40" lengthAdjust="spacingAndGlyphs">0</text>
<text x="471.44" y="406.80" font-size="12.8" textLength="6.40" lengthAdjust="spacingAndGlyphs">1</text>
<text x="494.46" y="406.80" font-size="12.8" textLength="6.40" lengthAdjust="spacingAndGlyphs">2</text>
<text x="517.17" y="406.80" font-size="12.8" textLength="6.40" lengthAdjust="spacingAndGlyphs">3</text>
<text x="536.87" y="406.80" font-size="12.8" textLength="6.40" lengthAdjust="spacingAndGlyphs">5</text>
<text x="553.11" y="406.80" font-size="12.8" textLength="12.80" lengthAdjust="spacingAndGlyphs">10</text>
<text x="575.91" y="406.80" font-size="12.8" textLength="12.80" lengthAdjust="spacingAndGlyphs">15</text>
<text x="598.37" y="406.80" font-size="12.8" textLength="12.80" lengthAdjust="spacingAndGlyphs">30</text>
<text x="620.80" y="406.80" font-size="12.8" textLength="12.80" lengthAdjust="spacingAndGlyphs">60</text>
<text x="406.40" y="406.80" font-size="12.8" textLength="12.81" lengthAdjust="spacingAndGlyphs">bp</text>
<line x1="406.00" y1="409.80" x2="418.90" y2="409.80" stroke="#000" stroke-width="0.9"/>
<text x="398.51" y="422.50" font-size="12.8" textLength="19.20" lengthAdjust="spacingAndGlyphs">200</text>
<text x="398.51" y="437.40" font-size="12.8" textLength="19.20" lengthAdjust="spacingAndGlyphs">150</text>
<text x="398.51" y="453.10" font-size="12.8" textLength="19.20" lengthAdjust="spacingAndGlyphs">100</text>
<line x1="650.2" y1="419.9" x2="666.9" y2="419.9" stroke="#000" stroke-width="1"/>
<polygon points="647.2,419.9 652.0,418.29999999999995 652.0,421.5" fill="#000"/>
<text x="669.72" y="423.60" font-size="14.3" font-weight="bold" textLength="7.86" lengthAdjust="spacingAndGlyphs">S</text>
<line x1="650.2" y1="441.5" x2="666.9" y2="441.5" stroke="#000" stroke-width="1"/>
<polygon points="647.2,441.5 652.0,439.9 652.0,443.1" fill="#000"/>
<text x="669.61" y="445.20" font-size="14.3" font-weight="bold" textLength="13.71" lengthAdjust="spacingAndGlyphs">P1</text>
<line x1="650.2" y1="461.5" x2="666.9" y2="461.5" stroke="#000" stroke-width="1"/>
<polygon points="647.2,461.5 652.0,459.9 652.0,463.1" fill="#000"/>
<text x="669.60" y="465.20" font-size="14.3" font-weight="bold" textLength="14.74" lengthAdjust="spacingAndGlyphs">P2</text>
<clipPath id="c5"><rect x="423.1" y="524.2" width="217.80" height="71.30"/></clipPath>
<g clip-path="url(#c5)"><g filter="url(#bl)">
<rect x="421.1" y="522.2" width="221.80" height="75.30" fill="#8e8e8e"/>
<linearGradient id="gp5" x1="0" y1="524.2" x2="0" y2="595.5" gradientUnits="userSpaceOnUse"><stop offset="0.0000" stop-color="#646464"/><stop offset="0.3338" stop-color="#707070"/><stop offset="0.6424" stop-color="#828282"/><stop offset="0.7826" stop-color="#909090"/><stop offset="1.0000" stop-color="#8c8c8c"/></linearGradient>
<rect x="444" y="524.2" width="196.90" height="71.30" fill="url(#gp5)"/>
<rect x="421.1" y="522.2" width="22.90" height="75.30" fill="#868686"/>
<linearGradient id="g5_0" x1="0" y1="524.2" x2="0" y2="595.5" gradientUnits="userSpaceOnUse"><stop offset="0.0000" stop-color="#525252"/><stop offset="0.0982" stop-color="#525252"/><stop offset="0.1234" stop-color="#0c0c0c"/><stop offset="0.1515" stop-color="#141414"/><stop offset="0.1795" stop-color="#2a2a2a"/><stop offset="0.2496" stop-color="#404040"/><stop offset="0.3619" stop-color="#505050"/><stop offset="0.5021" stop-color="#646464"/><stop offset="0.6424" stop-color="#787878"/><stop offset="0.7546" stop-color="#929292"/><stop offset="0.8668" stop-color="#929292"/><stop offset="1.0000" stop-color="#8a8a8a"/></linearGradient>
<rect x="449.90" y="524.2" width="17" height="71.30" fill="url(#g5_0)"/>
<linearGradient id="g5_1" x1="0" y1="524.2" x2="0" y2="595.5" gradientUnits="userSpaceOnUse"><stop offset="0.0000" stop-color="#525252"/><stop offset="0.0982" stop-color="#525252"/><stop offset="0.1234" stop-color="#0c0c0c"/><stop offset="0.1515" stop-color="#141414"/><stop offset="0.1795" stop-color="#2a2a2a"/><stop offset="0.2496" stop-color="#404040"/><stop offset="0.3619" stop-color="#505050"/><stop offset="0.5021" stop-color="#646464"/><stop offset="0.6424" stop-color="#787878"/><stop offset="0.7546" stop-color="#929292"/><stop offset="0.8668" stop-color="#929292"/><stop offset="1.0000" stop-color="#8a8a8a"/></linearGradient>
<rect x="471.00" y="524.2" width="17" height="71.30" fill="url(#g5_1)"/>
<linearGradient id="g5_2" x1="0" y1="524.2" x2="0" y2="595.5" gradientUnits="userSpaceOnUse"><stop offset="0.0000" stop-color="#525252"/><stop offset="0.0982" stop-color="#525252"/><stop offset="0.1234" stop-color="#0c0c0c"/><stop offset="0.1515" stop-color="#141414"/><stop offset="0.1795" stop-color="#2a2a2a"/><stop offset="0.2496" stop-color="#404040"/><stop offset="0.3619" stop-color="#505050"/><stop offset="0.5021" stop-color="#646464"/><stop offset="0.6424" stop-color="#787878"/><stop offset="0.7546" stop-color="#929292"/><stop offset="0.8668" stop-color="#929292"/><stop offset="1.0000" stop-color="#8a8a8a"/></linearGradient>
<rect x="492.00" y="524.2" width="17" height="71.30" fill="url(#g5_2)"/>
<linearGradient id="g5_3" x1="0" y1="524.2" x2="0" y2="595.5" gradientUnits="userSpaceOnUse"><stop offset="0.0000" stop-color="#525252"/><stop offset="0.0982" stop-color="#525252"/><stop offset="0.1234" stop-color="#0c0c0c"/><stop offset="0.1515" stop-color="#141414"/><stop offset="0.1795" stop-color="#2a2a2a"/><stop offset="0.2496" stop-color="#404040"/><stop offset="0.3619" stop-color="#505050"/><stop offset="0.5021" stop-color="#646464"/><stop offset="0.6424" stop-color="#787878"/><stop offset="0.7546" stop-color="#929292"/><stop offset="0.8668" stop-color="#929292"/><stop offset="1.0000" stop-color="#8a8a8a"/></linearGradient>
<rect x="513.50" y="524.2" width="17" height="71.30" fill="url(#g5_3)"/>
<linearGradient id="g5_4" x1="0" y1="524.2" x2="0" y2="595.5" gradientUnits="userSpaceOnUse"><stop offset="0.0000" stop-color="#555555"/><stop offset="0.0982" stop-color="#555555"/><stop offset="0.1234" stop-color="#0f0f0f"/><stop offset="0.1795" stop-color="#323232"/><stop offset="0.2496" stop-color="#464646"/><stop offset="0.3619" stop-color="#555555"/><stop offset="0.5021" stop-color="#626262"/><stop offset="0.6424" stop-color="#707070"/><stop offset="0.7546" stop-color="#929292"/><stop offset="0.8668" stop-color="#929292"/><stop offset="1.0000" stop-color="#8a8a8a"/></linearGradient>
<rect x="534.10" y="524.2" width="17" height="71.30" fill="url(#g5_4)"/>
<path d="M534.70,549.80 Q536.20,551.30 542.60,551.30 T550.50,549.80" fill="none" stroke="#5a5a5a" stroke-width="2"/>
<path d="M534.70,568.80 Q536.20,570.30 542.60,570.30 T550.50,568.80" fill="none" stroke="#646464" stroke-width="2"/>
<linearGradient id="g5_5" x1="0" y1="524.2" x2="0" y2="595.5" gradientUnits="userSpaceOnUse"><stop offset="0.0000" stop-color="#5c5c5c"/><stop offset="0.0982" stop-color="#5c5c5c"/><stop offset="0.1234" stop-color="#191919"/><stop offset="0.1795" stop-color="#414141"/><stop offset="0.2496" stop-color="#555555"/><stop offset="0.3619" stop-color="#5f5f5f"/><stop offset="0.4320" stop-color="#5f5f5f"/><stop offset="0.5722" stop-color="#646464"/><stop offset="0.7546" stop-color="#929292"/><stop offset="0.8668" stop-color="#929292"/><stop offset="1.0000" stop-color="#8a8a8a"/></linearGradient>
<rect x="555.70" y="524.2" width="17" height="71.30" fill="url(#g5_5)"/>
<path d="M556.30,550.30 Q557.80,551.80 564.20,551.80 T572.10,550.30" fill="none" stroke="#414141" stroke-width="2.5"/>
<path d="M556.30,569.80 Q557.80,571.30 564.20,571.30 T572.10,569.80" fill="none" stroke="#4b4b4b" stroke-width="2.5"/>
<linearGradient id="g5_6" x1="0" y1="524.2" x2="0" y2="595.5" gradientUnits="userSpaceOnUse"><stop offset="0.0000" stop-color="#626262"/><stop offset="0.0982" stop-color="#626262"/><stop offset="0.1234" stop-color="#232323"/><stop offset="0.1795" stop-color="#4b4b4b"/><stop offset="0.2496" stop-color="#5c5c5c"/><stop offset="0.3619" stop-color="#646464"/><stop offset="0.4320" stop-color="#626262"/><stop offset="0.5722" stop-color="#646464"/><stop offset="0.7546" stop-color="#929292"/><stop offset="0.8668" stop-color="#929292"/><stop offset="1.0000" stop-color="#8a8a8a"/></linearGradient>
<rect x="576.80" y="524.2" width="17" height="71.30" fill="url(#g5_6)"/>
<path d="M577.40,550.60 Q578.90,552.10 585.30,552.10 T593.20,550.60" fill="none" stroke="#414141" stroke-width="2.5"/>
<path d="M577.40,571.00 Q578.90,572.50 585.30,572.50 T593.20,571.00" fill="none" stroke="#4b4b4b" stroke-width="2.5"/>
<linearGradient id="g5_7" x1="0" y1="524.2" x2="0" y2="595.5" gradientUnits="userSpaceOnUse"><stop offset="0.0000" stop-color="#686868"/><stop offset="0.1122" stop-color="#686868"/><stop offset="0.1234" stop-color="#6a6a6a"/><stop offset="0.2917" stop-color="#767676"/><stop offset="0.4741" stop-color="#5c5c5c"/><stop offset="0.5722" stop-color="#5c5c5c"/><stop offset="0.7546" stop-color="#929292"/><stop offset="0.8668" stop-color="#929292"/><stop offset="1.0000" stop-color="#8a8a8a"/></linearGradient>
<rect x="598.00" y="524.2" width="17" height="71.30" fill="url(#g5_7)"/>
<path d="M598.60,551.30 Q600.10,552.80 606.50,552.80 T614.40,551.30" fill="none" stroke="#303030" stroke-width="3"/>
<path d="M598.60,571.80 Q600.10,573.30 606.50,573.30 T614.40,571.80" fill="none" stroke="#3a3a3a" stroke-width="3"/>
<linearGradient id="g5_8" x1="0" y1="524.2" x2="0" y2="595.5" gradientUnits="userSpaceOnUse"><stop offset="0.0000" stop-color="#686868"/><stop offset="0.1122" stop-color="#686868"/><stop offset="0.1234" stop-color="#6a6a6a"/><stop offset="0.2917" stop-color="#767676"/><stop offset="0.4741" stop-color="#5c5c5c"/><stop offset="0.6003" stop-color="#5c5c5c"/><stop offset="0.8107" stop-color="#929292"/><stop offset="0.8668" stop-color="#929292"/><stop offset="1.0000" stop-color="#8a8a8a"/></linearGradient>
<rect x="619.40" y="524.2" width="17" height="71.30" fill="url(#g5_8)"/>
<path d="M620.00,551.20 Q621.50,552.70 627.90,552.70 T635.80,551.20" fill="none" stroke="#2d2d2d" stroke-width="3.5"/>
<path d="M620.00,574.00 Q621.50,575.50 627.90,575.50 T635.80,574.00" fill="none" stroke="#3c3c3c" stroke-width="3.5"/>
<path d="M425.5,533 Q428.5,538.0 431.5,537.0 L444,530" fill="none" stroke="#1e1e1e" stroke-width="2.4"/>
<path d="M426,546 Q428.5,550.5 431.5,549.5 L444,541" fill="none" stroke="#1e1e1e" stroke-width="2.4"/>
<path d="M426,565 Q429,570.5 432,569.5 L444,560" fill="none" stroke="#1e1e1e" stroke-width="2.4"/>
<polygon points="421.1,522.2 437,522.2 421.1,536.5" fill="#e0e0e0"/>
</g></g>
<rect x="423.5" y="524.6" width="217.00" height="70.50" fill="none" stroke="#555" stroke-width="0.8" opacity="0.6"/>
<text x="411.12" y="506.90" font-size="13" textLength="4.31" lengthAdjust="spacingAndGlyphs">(</text>
<text x="422.32" y="506.90" font-size="13" textLength="4.23" lengthAdjust="spacingAndGlyphs">)</text>
<circle cx="418.70" cy="503.40" r="2.9" fill="#000"/>
<text x="502.54" y="506.70" font-size="12.8" textLength="58.09" lengthAdjust="spacingAndGlyphs">Time (min)</text>
<text x="427.90" y="522.20" font-size="12.8" textLength="11.38" lengthAdjust="spacingAndGlyphs">M</text>
<text x="452.30" y="522.20" font-size="12.8" textLength="6.40" lengthAdjust="spacingAndGlyphs">0</text>
<text x="475.14" y="522.20" font-size="12.8" textLength="6.40" lengthAdjust="spacingAndGlyphs">1</text>
<text x="494.46" y="522.20" font-size="12.8" textLength="6.40" lengthAdjust="spacingAndGlyphs">2</text>
<text x="516.87" y="522.20" font-size="12.8" textLength="6.40" lengthAdjust="spacingAndGlyphs">3</text>
<text x="537.17" y="522.20" font-size="12.8" textLength="6.40" lengthAdjust="spacingAndGlyphs">5</text>
<text x="553.01" y="522.20" font-size="12.8" textLength="12.80" lengthAdjust="spacingAndGlyphs">10</text>
<text x="575.91" y="522.20" font-size="12.8" textLength="12.80" lengthAdjust="spacingAndGlyphs">15</text>
<text x="598.37" y="522.20" font-size="12.8" textLength="12.80" lengthAdjust="spacingAndGlyphs">30</text>
<text x="620.80" y="522.20" font-size="12.8" textLength="12.80" lengthAdjust="spacingAndGlyphs">60</text>
<text x="406.10" y="522.20" font-size="12.8" textLength="13.44" lengthAdjust="spacingAndGlyphs">bp</text>
<line x1="405.70" y1="525.30" x2="419.20" y2="525.30" stroke="#000" stroke-width="0.9"/>
<text x="398.51" y="537.50" font-size="12.8" textLength="19.20" lengthAdjust="spacingAndGlyphs">200</text>
<text x="398.51" y="552.40" font-size="12.8" textLength="19.20" lengthAdjust="spacingAndGlyphs">150</text>
<text x="398.51" y="568.10" font-size="12.8" textLength="19.20" lengthAdjust="spacingAndGlyphs">100</text>
<line x1="650.2" y1="530.8" x2="666.9" y2="530.8" stroke="#000" stroke-width="1"/>
<polygon points="647.2,530.8 652.0,529.1999999999999 652.0,532.4" fill="#000"/>
<text x="669.72" y="534.50" font-size="14.3" font-weight="bold" textLength="7.86" lengthAdjust="spacingAndGlyphs">S</text>
<line x1="650.2" y1="551.2" x2="666.9" y2="551.2" stroke="#000" stroke-width="1"/>
<polygon points="647.2,551.2 652.0,549.6 652.0,552.8000000000001" fill="#000"/>
<text x="669.61" y="554.90" font-size="14.3" font-weight="bold" textLength="13.71" lengthAdjust="spacingAndGlyphs">P1</text>
<line x1="650.2" y1="573.4" x2="666.9" y2="573.4" stroke="#000" stroke-width="1"/>
<polygon points="647.2,573.4 652.0,571.8 652.0,575.0" fill="#000"/>
<text x="669.60" y="577.10" font-size="14.3" font-weight="bold" textLength="14.74" lengthAdjust="spacingAndGlyphs">P2</text>
<clipPath id="c6"><rect x="423.1" y="640.1" width="217.80" height="71.20"/></clipPath>
<g clip-path="url(#c6)"><g filter="url(#bl)">
<rect x="421.1" y="638.1" width="221.80" height="75.20" fill="#8a8a8a"/>
<linearGradient id="gp6" x1="0" y1="640.1" x2="0" y2="711.3" gradientUnits="userSpaceOnUse"><stop offset="0.0000" stop-color="#5f5f5f"/><stop offset="0.4902" stop-color="#707070"/><stop offset="1.0000" stop-color="#8a8a8a"/></linearGradient>
<rect x="444" y="640.1" width="196.90" height="71.20" fill="url(#gp6)"/>
<rect x="421.1" y="638.1" width="22.90" height="75.20" fill="#767676"/>
<linearGradient id="g6_0" x1="0" y1="640.1" x2="0" y2="711.3" gradientUnits="userSpaceOnUse"><stop offset="0.0000" stop-color="#505050"/><stop offset="0.1840" stop-color="#505050"/><stop offset="0.2093" stop-color="#0a0a0a"/><stop offset="0.2795" stop-color="#0c0c0c"/><stop offset="0.3357" stop-color="#2a2a2a"/><stop offset="0.3919" stop-color="#373737"/><stop offset="0.4621" stop-color="#444444"/><stop offset="0.5604" stop-color="#585858"/><stop offset="0.7008" stop-color="#646464"/><stop offset="0.7711" stop-color="#787878"/><stop offset="0.9115" stop-color="#8a8a8a"/><stop offset="1.0000" stop-color="#8e8e8e"/></linearGradient>
<rect x="450.15" y="640.1" width="17.5" height="71.20" fill="url(#g6_0)"/>
<linearGradient id="g6_1" x1="0" y1="640.1" x2="0" y2="711.3" gradientUnits="userSpaceOnUse"><stop offset="0.0000" stop-color="#505050"/><stop offset="0.1840" stop-color="#505050"/><stop offset="0.2093" stop-color="#0a0a0a"/><stop offset="0.2795" stop-color="#0c0c0c"/><stop offset="0.3357" stop-color="#2a2a2a"/><stop offset="0.3919" stop-color="#373737"/><stop offset="0.4621" stop-color="#444444"/><stop offset="0.5604" stop-color="#585858"/><stop offset="0.7008" stop-color="#646464"/><stop offset="0.7711" stop-color="#787878"/><stop offset="0.9115" stop-color="#8a8a8a"/><stop offset="1.0000" stop-color="#8e8e8e"/></linearGradient>
<rect x="471.05" y="640.1" width="17.5" height="71.20" fill="url(#g6_1)"/>
<linearGradient id="g6_2" x1="0" y1="640.1" x2="0" y2="711.3" gradientUnits="userSpaceOnUse"><stop offset="0.0000" stop-color="#505050"/><stop offset="0.1840" stop-color="#505050"/><stop offset="0.2093" stop-color="#0a0a0a"/><stop offset="0.2795" stop-color="#0c0c0c"/><stop offset="0.3357" stop-color="#2a2a2a"/><stop offset="0.3919" stop-color="#373737"/><stop offset="0.4621" stop-color="#444444"/><stop offset="0.5604" stop-color="#585858"/><stop offset="0.7008" stop-color="#646464"/><stop offset="0.7711" stop-color="#787878"/><stop offset="0.9115" stop-color="#8a8a8a"/><stop offset="1.0000" stop-color="#8e8e8e"/></linearGradient>
<rect x="492.25" y="640.1" width="17.5" height="71.20" fill="url(#g6_2)"/>
<linearGradient id="g6_3" x1="0" y1="640.1" x2="0" y2="711.3" gradientUnits="userSpaceOnUse"><stop offset="0.0000" stop-color="#505050"/><stop offset="0.1840" stop-color="#505050"/><stop offset="0.2093" stop-color="#0a0a0a"/><stop offset="0.2795" stop-color="#0c0c0c"/><stop offset="0.3357" stop-color="#2a2a2a"/><stop offset="0.3919" stop-color="#373737"/><stop offset="0.4621" stop-color="#444444"/><stop offset="0.5604" stop-color="#585858"/><stop offset="0.7008" stop-color="#646464"/><stop offset="0.7711" stop-color="#787878"/><stop offset="0.9115" stop-color="#8a8a8a"/><stop offset="1.0000" stop-color="#8e8e8e"/></linearGradient>
<rect x="513.75" y="640.1" width="17.5" height="71.20" fill="url(#g6_3)"/>
<linearGradient id="g6_4" x1="0" y1="640.1" x2="0" y2="711.3" gradientUnits="userSpaceOnUse"><stop offset="0.0000" stop-color="#505050"/><stop offset="0.1840" stop-color="#505050"/><stop offset="0.2093" stop-color="#0a0a0a"/><stop offset="0.2795" stop-color="#0c0c0c"/><stop offset="0.3357" stop-color="#2a2a2a"/><stop offset="0.3919" stop-color="#373737"/><stop offset="0.4621" stop-color="#444444"/><stop offset="0.5604" stop-color="#585858"/><stop offset="0.7008" stop-color="#646464"/><stop offset="0.7711" stop-color="#787878"/><stop offset="0.9115" stop-color="#8a8a8a"/><stop offset="1.0000" stop-color="#8e8e8e"/></linearGradient>
<rect x="534.75" y="640.1" width="17.5" height="71.20" fill="url(#g6_4)"/>
<linearGradient id="g6_5" x1="0" y1="640.1" x2="0" y2="711.3" gradientUnits="userSpaceOnUse"><stop offset="0.0000" stop-color="#545454"/><stop offset="0.1840" stop-color="#545454"/><stop offset="0.2093" stop-color="#0f0f0f"/><stop offset="0.2795" stop-color="#161616"/><stop offset="0.3357" stop-color="#323232"/><stop offset="0.3919" stop-color="#3e3e3e"/><stop offset="0.4621" stop-color="#4a4a4a"/><stop offset="0.5604" stop-color="#5a5a5a"/><stop offset="0.7008" stop-color="#666666"/><stop offset="0.7711" stop-color="#787878"/><stop offset="0.9115" stop-color="#8a8a8a"/><stop offset="1.0000" stop-color="#8e8e8e"/></linearGradient>
<rect x="556.25" y="640.1" width="17.5" height="71.20" fill="url(#g6_5)"/>
<linearGradient id="g6_6" x1="0" y1="640.1" x2="0" y2="711.3" gradientUnits="userSpaceOnUse"><stop offset="0.0000" stop-color="#585858"/><stop offset="0.1699" stop-color="#585858"/><stop offset="0.1812" stop-color="#1e1e1e"/><stop offset="0.2514" stop-color="#323232"/><stop offset="0.3497" stop-color="#484848"/><stop offset="0.4480" stop-color="#545454"/><stop offset="0.5604" stop-color="#5c5c5c"/><stop offset="0.7008" stop-color="#626262"/><stop offset="0.8413" stop-color="#7a7a7a"/><stop offset="0.9115" stop-color="#8a8a8a"/><stop offset="1.0000" stop-color="#8e8e8e"/></linearGradient>
<rect x="577.35" y="640.1" width="17.5" height="71.20" fill="url(#g6_6)"/>
<path d="M577.95,674.80 Q579.45,676.30 586.10,676.30 T594.25,674.80" fill="none" stroke="#4e4e4e" stroke-width="2.5"/>
<path d="M577.95,695.80 Q579.45,697.30 586.10,697.30 T594.25,695.80" fill="none" stroke="#5f5f5f" stroke-width="2.5"/>
<linearGradient id="g6_7" x1="0" y1="640.1" x2="0" y2="711.3" gradientUnits="userSpaceOnUse"><stop offset="0.0000" stop-color="#5a5a5a"/><stop offset="0.1559" stop-color="#5a5a5a"/><stop offset="0.1671" stop-color="#2a2a2a"/><stop offset="0.2233" stop-color="#3a3a3a"/><stop offset="0.3216" stop-color="#484848"/><stop offset="0.4199" stop-color="#505050"/><stop offset="0.5885" stop-color="#5a5a5a"/><stop offset="0.7008" stop-color="#5c5c5c"/><stop offset="0.8413" stop-color="#7a7a7a"/><stop offset="0.9115" stop-color="#8a8a8a"/><stop offset="1.0000" stop-color="#8e8e8e"/></linearGradient>
<rect x="598.35" y="640.1" width="17.5" height="71.20" fill="url(#g6_7)"/>
<path d="M598.95,674.60 Q600.45,676.10 607.10,676.10 T615.25,674.60" fill="none" stroke="#3e3e3e" stroke-width="3"/>
<path d="M598.95,695.80 Q600.45,697.30 607.10,697.30 T615.25,695.80" fill="none" stroke="#4c4c4c" stroke-width="3"/>
<linearGradient id="g6_8" x1="0" y1="640.1" x2="0" y2="711.3" gradientUnits="userSpaceOnUse"><stop offset="0.0000" stop-color="#5c5c5c"/><stop offset="0.1559" stop-color="#5c5c5c"/><stop offset="0.1671" stop-color="#323232"/><stop offset="0.2233" stop-color="#3e3e3e"/><stop offset="0.3216" stop-color="#4b4b4b"/><stop offset="0.4199" stop-color="#525252"/><stop offset="0.6166" stop-color="#5c5c5c"/><stop offset="0.7289" stop-color="#5f5f5f"/><stop offset="0.8834" stop-color="#7a7a7a"/><stop offset="0.9115" stop-color="#8a8a8a"/><stop offset="1.0000" stop-color="#8e8e8e"/></linearGradient>
<rect x="619.75" y="640.1" width="17.5" height="71.20" fill="url(#g6_8)"/>
<path d="M620.35,676.50 Q621.85,678.00 628.50,678.00 T636.65,676.50" fill="none" stroke="#444444" stroke-width="3"/>
<path d="M620.35,698.70 Q621.85,700.20 628.50,700.20 T636.65,698.70" fill="none" stroke="#505050" stroke-width="3"/>
<path d="M426.00,645.60 Q435.00,645.60 444.00,644.20" fill="none" stroke="#5a5a5a" stroke-width="2.5"/>
<path d="M426.00,654.30 Q435.00,654.30 444.00,652.90" fill="none" stroke="#5a5a5a" stroke-width="2.5"/>
<path d="M426.00,664.10 Q435.00,664.10 444.00,662.70" fill="none" stroke="#5a5a5a" stroke-width="2.5"/>
<path d="M426.00,676.90 Q435.00,676.90 444.00,675.50" fill="none" stroke="#555555" stroke-width="3"/>
</g></g>
<rect x="423.5" y="640.5" width="217.00" height="70.40" fill="none" stroke="#555" stroke-width="0.8" opacity="0.6"/>
<text x="410.82" y="622.70" font-size="13" textLength="4.31" lengthAdjust="spacingAndGlyphs">(</text>
<text x="428.12" y="622.70" font-size="13" textLength="4.23" lengthAdjust="spacingAndGlyphs">)</text>
<polygon points="417.20,622.90 426.00,622.90 421.60,614.50" fill="#000"/>
<text x="505.54" y="623.90" font-size="12.8" textLength="58.29" lengthAdjust="spacingAndGlyphs">Time (min)</text>
<text x="430.80" y="638.80" font-size="12.8" textLength="11.38" lengthAdjust="spacingAndGlyphs">M</text>
<text x="455.20" y="638.80" font-size="12.8" textLength="6.40" lengthAdjust="spacingAndGlyphs">0</text>
<text x="474.54" y="638.80" font-size="12.8" textLength="6.40" lengthAdjust="spacingAndGlyphs">1</text>
<text x="494.46" y="638.80" font-size="12.8" textLength="6.40" lengthAdjust="spacingAndGlyphs">2</text>
<text x="517.17" y="638.80" font-size="12.8" textLength="6.40" lengthAdjust="spacingAndGlyphs">3</text>
<text x="540.17" y="638.80" font-size="12.8" textLength="6.40" lengthAdjust="spacingAndGlyphs">5</text>
<text x="556.31" y="638.80" font-size="12.8" textLength="12.80" lengthAdjust="spacingAndGlyphs">10</text>
<text x="575.91" y="638.80" font-size="12.8" textLength="12.80" lengthAdjust="spacingAndGlyphs">15</text>
<text x="598.37" y="638.80" font-size="12.8" textLength="12.80" lengthAdjust="spacingAndGlyphs">30</text>
<text x="620.80" y="638.80" font-size="12.8" textLength="12.80" lengthAdjust="spacingAndGlyphs">60</text>
<text x="406.10" y="638.80" font-size="12.8" textLength="13.12" lengthAdjust="spacingAndGlyphs">bp</text>
<line x1="405.70" y1="641.60" x2="418.90" y2="641.60" stroke="#000" stroke-width="0.9"/>
<text x="398.51" y="658.20" font-size="12.8" textLength="19.20" lengthAdjust="spacingAndGlyphs">200</text>
<text x="398.51" y="668.50" font-size="12.8" textLength="19.20" lengthAdjust="spacingAndGlyphs">150</text>
<text x="398.51" y="683.40" font-size="12.8" textLength="19.20" lengthAdjust="spacingAndGlyphs">100</text>
<line x1="648.2" y1="653.2" x2="665.7" y2="653.2" stroke="#000" stroke-width="1"/>
<polygon points="645.2,653.2 650.0,651.6 650.0,654.8000000000001" fill="#000"/>
<text x="669.72" y="656.90" font-size="14.3" font-weight="bold" textLength="7.86" lengthAdjust="spacingAndGlyphs">S</text>
<line x1="648.2" y1="676.1" x2="665.7" y2="676.1" stroke="#000" stroke-width="1"/>
<polygon points="645.2,676.1 650.0,674.5 650.0,677.7" fill="#000"/>
<text x="669.61" y="679.80" font-size="14.3" font-weight="bold" textLength="13.71" lengthAdjust="spacingAndGlyphs">P1</text>
<line x1="648.2" y1="698.5" x2="665.7" y2="698.5" stroke="#000" stroke-width="1"/>
<polygon points="645.2,698.5 650.0,696.9 650.0,700.1" fill="#000"/>
<text x="669.60" y="702.20" font-size="14.3" font-weight="bold" textLength="14.74" lengthAdjust="spacingAndGlyphs">P2</text>
</svg></body></html>
